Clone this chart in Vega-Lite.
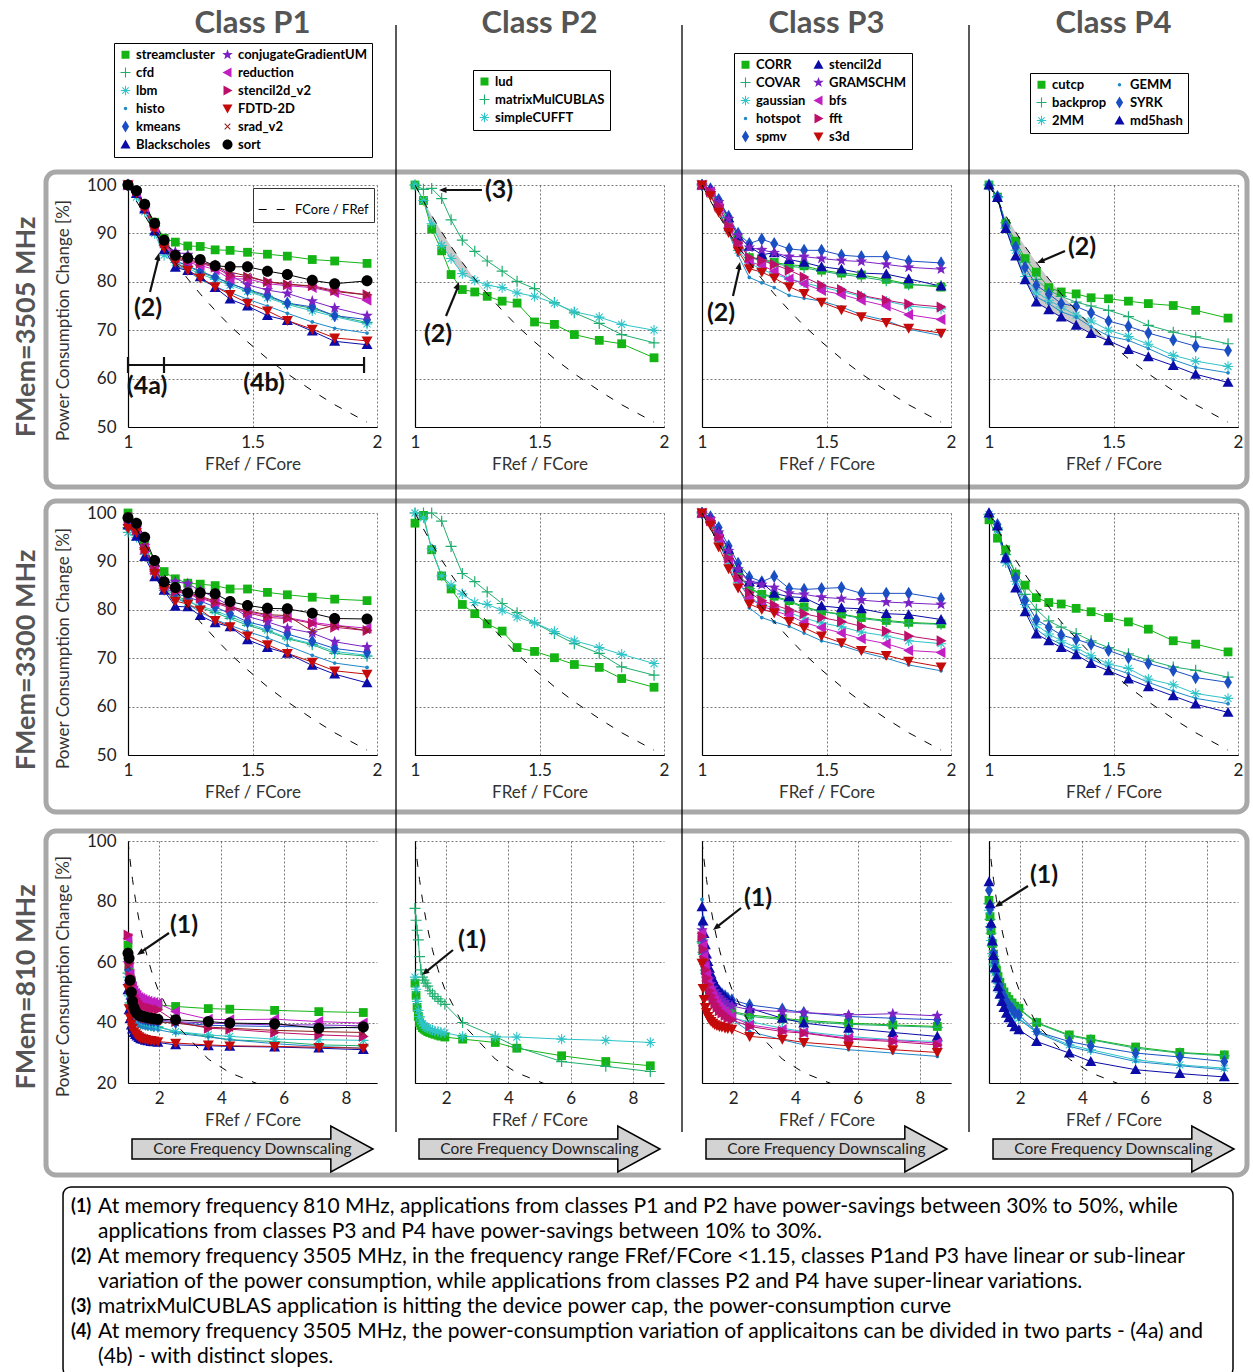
{
"$schema": "https://vega.github.io/schema/vega-lite/v6.json",
"background": "white",
"padding": {"left": 12, "top": 8, "right": 0, "bottom": 0},
"config": {
  "font": "Lato",
  "view": {"stroke": null},
  "axis": {"domainColor": "#000", "domainWidth": 1.2, "grid": true, "gridColor": "#555", "gridDash": [2, 2], "gridWidth": 0.8, "ticks": false, "labelFont": "Lato", "labelFontSize": 17, "labelColor": "#222", "labelFlush": false, "labelOverlap": false, "titleFont": "Lato", "titleFontSize": 17, "titleFontWeight": "normal", "titleColor": "#333"},
  "axisX": {"labelPadding": 7, "titlePadding": 6},
  "axisY": {"labelPadding": 12, "titlePadding": 14},
  "legend": {"labelFont": "Lato", "labelFontSize": 13, "labelFontWeight": "bold", "labelColor": "#000", "strokeColor": "#000", "fillColor": "#fff", "padding": 5, "symbolSize": 100, "symbolOpacity": 1, "symbolFillColor": "#000", "rowPadding": 4, "columnPadding": 6, "labelOffset": 4, "labelLimit": 400, "symbolStrokeWidth": 0},
  "range": {
    "category": ["#2ec4c8","#0b0ba8","#14b414","#1fae6e","#c40a0a","#1e88c8","#7a22c4","#1a4fc4","#1fae6e","#c21fc2","#1fae6e","#7a22c4","#14b414","#bd0f6a","#2ec4c8","#1e88c8","#1e88c8","#1a4fc4","#2ec4c8","#14b414","#1fae6e","#0b0ba8","#c21fc2","#c40a0a","#2ec4c8","#000000","#1a4fc4","#8a1c1c","#0b0ba8","#bd0f6a","#14b414"],
    "symbol": [
      "M-0.95,-0.1H0.95V0.1H-0.95Z M-0.1,-0.95H0.1V0.95H-0.1Z M-0.707,-0.566L-0.566,-0.707L0.707,0.566L0.566,0.707Z M0.566,-0.707L0.707,-0.566L-0.566,0.707L-0.707,0.566Z",
      "M0,-1L1,0.8H-1Z",
      "M-0.8,-0.8H0.8V0.8H-0.8Z",
      "M-1,-0.11H1V0.11H-1Z M-0.11,-1H0.11V1H-0.11Z",
      "M0,1L1,-0.8H-1Z",
      "M-0.34,0A0.34,0.34,0,1,0,0.34,0A0.34,0.34,0,1,0,-0.34,0Z",
      "M0,-1.1L0.27,-0.37L1.05,-0.34L0.44,0.14L0.65,0.89L0,0.46L-0.65,0.89L-0.44,0.14L-1.05,-0.34L-0.27,-0.37Z",
      "M0,-1.2L0.72,0L0,1.2L-0.72,0Z",
      "M-1,-0.11H1V0.11H-1Z M-0.11,-1H0.11V1H-0.11Z",
      "M-1,0L0.8,-1V1Z",
      "M-1,-0.11H1V0.11H-1Z M-0.11,-1H0.11V1H-0.11Z",
      "M0,-1.1L0.27,-0.37L1.05,-0.34L0.44,0.14L0.65,0.89L0,0.46L-0.65,0.89L-0.44,0.14L-1.05,-0.34L-0.27,-0.37Z",
      "M-0.8,-0.8H0.8V0.8H-0.8Z",
      "M1,0L-0.8,-1V1Z",
      "M-0.95,-0.1H0.95V0.1H-0.95Z M-0.1,-0.95H0.1V0.95H-0.1Z M-0.707,-0.566L-0.566,-0.707L0.707,0.566L0.566,0.707Z M0.566,-0.707L0.707,-0.566L-0.566,0.707L-0.707,0.566Z",
      "M-0.34,0A0.34,0.34,0,1,0,0.34,0A0.34,0.34,0,1,0,-0.34,0Z",
      "M-0.34,0A0.34,0.34,0,1,0,0.34,0A0.34,0.34,0,1,0,-0.34,0Z",
      "M0,-1.2L0.72,0L0,1.2L-0.72,0Z",
      "M-0.95,-0.1H0.95V0.1H-0.95Z M-0.1,-0.95H0.1V0.95H-0.1Z M-0.707,-0.566L-0.566,-0.707L0.707,0.566L0.566,0.707Z M0.566,-0.707L0.707,-0.566L-0.566,0.707L-0.707,0.566Z",
      "M-0.8,-0.8H0.8V0.8H-0.8Z",
      "M-1,-0.11H1V0.11H-1Z M-0.11,-1H0.11V1H-0.11Z",
      "M0,-1L1,0.8H-1Z",
      "M-1,0L0.8,-1V1Z",
      "M0,1L1,-0.8H-1Z",
      "M-0.95,-0.1H0.95V0.1H-0.95Z M-0.1,-0.95H0.1V0.95H-0.1Z M-0.707,-0.566L-0.566,-0.707L0.707,0.566L0.566,0.707Z M0.566,-0.707L0.707,-0.566L-0.566,0.707L-0.707,0.566Z",
      "M-1,0A1,1,0,1,0,1,0A1,1,0,1,0,-1,0Z",
      "M0,-1.2L0.72,0L0,1.2L-0.72,0Z",
      "M-0.636,-0.495L-0.495,-0.636L0.636,0.495L0.495,0.636Z M0.495,-0.636L0.636,-0.495L-0.495,0.636L-0.636,0.495Z",
      "M0,-1L1,0.8H-1Z",
      "M1,0L-0.8,-1V1Z",
      "M-0.8,-0.8H0.8V0.8H-0.8Z"
    ]
  }
},
"datasets": {
"ref": [
{"s":"FCore / FRef","x":1,"h":100,"m":100,"l":100},
{"s":"FCore / FRef","x":1.034,"h":96.7,"m":96.7,"l":96.7},
{"s":"FCore / FRef","x":1.067,"h":93.7,"m":93.7,"l":93.7},
{"s":"FCore / FRef","x":1.107,"h":90.3,"m":90.3,"l":90.3},
{"s":"FCore / FRef","x":1.145,"h":87.3,"m":87.3,"l":87.3},
{"s":"FCore / FRef","x":1.19,"h":84,"m":84,"l":84},
{"s":"FCore / FRef","x":1.24,"h":80.6,"m":80.6,"l":80.6},
{"s":"FCore / FRef","x":1.29,"h":77.5,"m":77.5,"l":77.5},
{"s":"FCore / FRef","x":1.35,"h":74.1,"m":74.1,"l":74.1},
{"s":"FCore / FRef","x":1.41,"h":70.9,"m":70.9,"l":70.9},
{"s":"FCore / FRef","x":1.48,"h":67.6,"m":67.6,"l":67.6},
{"s":"FCore / FRef","x":1.56,"h":64.1,"m":64.1,"l":64.1},
{"s":"FCore / FRef","x":1.64,"h":61,"m":61,"l":61},
{"s":"FCore / FRef","x":1.74,"h":57.5,"m":57.5,"l":57.5},
{"s":"FCore / FRef","x":1.83,"h":54.6,"m":54.6,"l":54.6},
{"s":"FCore / FRef","x":1.96,"h":51,"m":51,"l":51},
{"s":"FCore / FRef","x":2.53,"l":39.5},
{"s":"FCore / FRef","x":3.58,"l":27.9},
{"s":"FCore / FRef","x":4.27,"l":23.4},
{"s":"FCore / FRef","x":5.71,"l":17.5}
],
"shade": [
{"c":"P2","x":1.034,"lo":96.8,"hi":96.8},
{"c":"P2","x":1.067,"lo":92,"hi":93.7},
{"c":"P2","x":1.107,"lo":87.5,"hi":90.3},
{"c":"P2","x":1.145,"lo":84.8,"hi":87.3},
{"c":"P2","x":1.19,"lo":81.7,"hi":84},
{"c":"P2","x":1.24,"lo":80.3,"hi":80.6},
{"c":"P2","x":1.29,"lo":77.2,"hi":77.5},
{"c":"P4","x":1.067,"lo":91,"hi":93.7},
{"c":"P4","x":1.107,"lo":85.3,"hi":90.3},
{"c":"P4","x":1.145,"lo":80.4,"hi":87.3},
{"c":"P4","x":1.19,"lo":75.8,"hi":84},
{"c":"P4","x":1.24,"lo":74.2,"hi":80.6},
{"c":"P4","x":1.29,"lo":72.7,"hi":77.5},
{"c":"P4","x":1.35,"lo":71,"hi":74.1},
{"c":"P4","x":1.41,"lo":69.3,"hi":70.9},
{"c":"P4","x":1.48,"lo":67.8,"hi":67.8}
],
"d": [
{"a":"streamcluster","x":1,"h":100,"m":100,"l":65.6},
{"a":"streamcluster","x":1.034,"h":98.8,"m":97,"l":58.1},
{"a":"streamcluster","x":1.067,"h":96,"m":94,"l":54.7},
{"a":"streamcluster","x":1.107,"h":92.3,"m":90,"l":52.3},
{"a":"streamcluster","x":1.145,"h":89,"m":87.9,"l":50.8},
{"a":"streamcluster","x":1.19,"h":88.2,"m":86.4,"l":49.6},
{"a":"streamcluster","x":1.24,"h":87.4,"m":85.5,"l":48.8},
{"a":"streamcluster","x":1.29,"h":87.3,"m":85.3,"l":48.2},
{"a":"streamcluster","x":1.35,"h":86.6,"m":85,"l":47.6},
{"a":"streamcluster","x":1.41,"h":86.5,"m":84.3,"l":47.2},
{"a":"streamcluster","x":1.48,"h":86.1,"m":84.3,"l":46.9},
{"a":"streamcluster","x":1.56,"h":85.7,"m":83.6,"l":46.6},
{"a":"streamcluster","x":1.64,"h":85.3,"m":83.1,"l":46.4},
{"a":"streamcluster","x":1.74,"h":84.6,"m":82.6,"l":46.2},
{"a":"streamcluster","x":1.83,"h":84.3,"m":82.2,"l":46},
{"a":"streamcluster","x":1.96,"h":83.8,"m":81.9,"l":45.8},
{"a":"streamcluster","x":2.53,"l":45.3},
{"a":"streamcluster","x":3.58,"l":44.6},
{"a":"streamcluster","x":4.27,"l":44.4},
{"a":"streamcluster","x":5.71,"l":44},
{"a":"streamcluster","x":7.13,"l":43.6},
{"a":"streamcluster","x":8.56,"l":43.3},
{"a":"cfd","x":1,"h":100,"m":97,"l":56.3},
{"a":"cfd","x":1.034,"h":98.5,"m":95.5,"l":49.5},
{"a":"cfd","x":1.067,"h":95.5,"m":92.5,"l":46.5},
{"a":"cfd","x":1.107,"h":91.5,"m":88,"l":44.4},
{"a":"cfd","x":1.145,"h":87.5,"m":84.5,"l":43},
{"a":"cfd","x":1.19,"h":84.5,"m":82.8,"l":41.9},
{"a":"cfd","x":1.24,"h":83.2,"m":82,"l":41.2},
{"a":"cfd","x":1.29,"h":82,"m":80.5,"l":40.6},
{"a":"cfd","x":1.35,"h":80.8,"m":79.4,"l":40.1},
{"a":"cfd","x":1.41,"h":79.8,"m":78.2,"l":39.7},
{"a":"cfd","x":1.48,"h":78.2,"m":76.8,"l":39.5},
{"a":"cfd","x":1.56,"h":77,"m":75.6,"l":39.2},
{"a":"cfd","x":1.64,"h":75.5,"m":74,"l":39},
{"a":"cfd","x":1.74,"h":74.5,"m":72.8,"l":38.9},
{"a":"cfd","x":1.83,"h":73,"m":71,"l":38.7},
{"a":"cfd","x":1.96,"h":71.6,"m":70.4,"l":38.5},
{"a":"cfd","x":2.53,"l":37},
{"a":"cfd","x":3.58,"l":35.4},
{"a":"cfd","x":4.27,"l":34.3},
{"a":"cfd","x":5.71,"l":33.7},
{"a":"cfd","x":7.13,"l":32.6},
{"a":"cfd","x":8.56,"l":32.3},
{"a":"lbm","x":1,"h":100,"m":96,"l":55},
{"a":"lbm","x":1.034,"h":97.5,"m":95,"l":48.8},
{"a":"lbm","x":1.067,"h":94.5,"m":91.5,"l":46},
{"a":"lbm","x":1.107,"h":90,"m":87.5,"l":44.1},
{"a":"lbm","x":1.145,"h":85.5,"m":84,"l":42.8},
{"a":"lbm","x":1.19,"h":84,"m":82.5,"l":41.8},
{"a":"lbm","x":1.24,"h":82.8,"m":81.6,"l":41.1},
{"a":"lbm","x":1.29,"h":81.6,"m":80.8,"l":40.7},
{"a":"lbm","x":1.35,"h":80.5,"m":79.8,"l":40.2},
{"a":"lbm","x":1.41,"h":79.3,"m":78.6,"l":39.8},
{"a":"lbm","x":1.48,"h":78,"m":77.2,"l":39.6},
{"a":"lbm","x":1.56,"h":76.7,"m":75.8,"l":39.4},
{"a":"lbm","x":1.64,"h":75.3,"m":74.2,"l":39.2},
{"a":"lbm","x":1.74,"h":74,"m":73,"l":39},
{"a":"lbm","x":1.83,"h":72.8,"m":71.4,"l":38.9},
{"a":"lbm","x":1.96,"h":71.3,"m":70.6,"l":38.7},
{"a":"lbm","x":2.53,"l":37},
{"a":"lbm","x":3.58,"l":35.9},
{"a":"lbm","x":4.27,"l":35.4},
{"a":"lbm","x":5.71,"l":34.5},
{"a":"lbm","x":7.13,"l":34.3},
{"a":"lbm","x":8.56,"l":34.1},
{"a":"histo","x":1,"h":100,"m":97,"l":51.9},
{"a":"histo","x":1.034,"h":98.4,"m":95.2,"l":46.5},
{"a":"histo","x":1.067,"h":95.2,"m":92,"l":44},
{"a":"histo","x":1.107,"h":91,"m":87,"l":42.3},
{"a":"histo","x":1.145,"h":87,"m":84,"l":41.2},
{"a":"histo","x":1.19,"h":83.6,"m":82.5,"l":40.3},
{"a":"histo","x":1.24,"h":82.2,"m":81.2,"l":39.7},
{"a":"histo","x":1.29,"h":80.5,"m":79.5,"l":39.3},
{"a":"histo","x":1.35,"h":79,"m":78,"l":38.9},
{"a":"histo","x":1.41,"h":77.8,"m":76.8,"l":38.6},
{"a":"histo","x":1.48,"h":76.4,"m":75.5,"l":38.4},
{"a":"histo","x":1.56,"h":75,"m":74.2,"l":38.2},
{"a":"histo","x":1.64,"h":73.5,"m":72.6,"l":38},
{"a":"histo","x":1.74,"h":71.7,"m":70.6,"l":37.9},
{"a":"histo","x":1.83,"h":70.4,"m":69,"l":37.7},
{"a":"histo","x":1.96,"h":69.4,"m":68.1,"l":37.6},
{"a":"histo","x":2.53,"l":36.5},
{"a":"histo","x":3.58,"l":35.2},
{"a":"histo","x":4.27,"l":34.3},
{"a":"histo","x":5.71,"l":33},
{"a":"histo","x":7.13,"l":32.1},
{"a":"histo","x":8.56,"l":31.5},
{"a":"kmeans","x":1,"h":100,"m":98,"l":57.4},
{"a":"kmeans","x":1.034,"h":98.6,"m":96,"l":50.9},
{"a":"kmeans","x":1.067,"h":95.5,"m":92.5,"l":48},
{"a":"kmeans","x":1.107,"h":91.4,"m":87.8,"l":46},
{"a":"kmeans","x":1.145,"h":87.6,"m":84.6,"l":44.6},
{"a":"kmeans","x":1.19,"h":84.3,"m":83.4,"l":43.5},
{"a":"kmeans","x":1.24,"h":83.3,"m":82.6,"l":42.9},
{"a":"kmeans","x":1.29,"h":82.2,"m":81.8,"l":42.4},
{"a":"kmeans","x":1.35,"h":81,"m":80.6,"l":41.8},
{"a":"kmeans","x":1.41,"h":79.6,"m":79.2,"l":41.5},
{"a":"kmeans","x":1.48,"h":78.4,"m":77.5,"l":41.2},
{"a":"kmeans","x":1.56,"h":77.2,"m":76.5,"l":41},
{"a":"kmeans","x":1.64,"h":75.6,"m":75,"l":40.8},
{"a":"kmeans","x":1.74,"h":74.8,"m":73.5,"l":40.6},
{"a":"kmeans","x":1.83,"h":73,"m":72,"l":40.5},
{"a":"kmeans","x":1.96,"h":72.2,"m":71.2,"l":40.3},
{"a":"kmeans","x":2.53,"l":40},
{"a":"kmeans","x":3.58,"l":39.1},
{"a":"kmeans","x":4.27,"l":38.9},
{"a":"kmeans","x":5.71,"l":38.7},
{"a":"kmeans","x":7.13,"l":38.5},
{"a":"kmeans","x":8.56,"l":38.2},
{"a":"Blackscholes","x":1,"h":100,"m":97.5,"l":50.8},
{"a":"Blackscholes","x":1.034,"h":98.2,"m":95.2,"l":44.2},
{"a":"Blackscholes","x":1.067,"h":95,"m":91,"l":41.2},
{"a":"Blackscholes","x":1.107,"h":90.5,"m":86.8,"l":39.1},
{"a":"Blackscholes","x":1.145,"h":86.6,"m":84,"l":37.8},
{"a":"Blackscholes","x":1.19,"h":83,"m":80.7,"l":36.7},
{"a":"Blackscholes","x":1.24,"h":82.3,"m":80.6,"l":36},
{"a":"Blackscholes","x":1.29,"h":81,"m":78.8,"l":35.5},
{"a":"Blackscholes","x":1.35,"h":78.8,"m":77.3,"l":35},
{"a":"Blackscholes","x":1.41,"h":76.4,"m":76.5,"l":34.6},
{"a":"Blackscholes","x":1.48,"h":75,"m":73.8,"l":34.4},
{"a":"Blackscholes","x":1.56,"h":73,"m":72.2,"l":34.1},
{"a":"Blackscholes","x":1.64,"h":72,"m":71,"l":33.9},
{"a":"Blackscholes","x":1.74,"h":69.8,"m":68.5,"l":33.7},
{"a":"Blackscholes","x":1.83,"h":67.7,"m":66.7,"l":33.6},
{"a":"Blackscholes","x":1.96,"h":67,"m":64.9,"l":33.4},
{"a":"Blackscholes","x":2.53,"l":32.6},
{"a":"Blackscholes","x":3.58,"l":32.3},
{"a":"Blackscholes","x":4.27,"l":32.1},
{"a":"Blackscholes","x":5.71,"l":31.9},
{"a":"Blackscholes","x":7.13,"l":31.5},
{"a":"Blackscholes","x":8.56,"l":31},
{"a":"conjugateGradientUM","x":1,"h":100,"m":98.5,"l":59.6},
{"a":"conjugateGradientUM","x":1.034,"h":98.7,"m":96.8,"l":52.5},
{"a":"conjugateGradientUM","x":1.067,"h":95.8,"m":93.2,"l":49.3},
{"a":"conjugateGradientUM","x":1.107,"h":91.8,"m":88.8,"l":47.1},
{"a":"conjugateGradientUM","x":1.145,"h":88,"m":85.5,"l":45.6},
{"a":"conjugateGradientUM","x":1.19,"h":86.2,"m":85.8,"l":44.5},
{"a":"conjugateGradientUM","x":1.24,"h":85.6,"m":85.4,"l":43.7},
{"a":"conjugateGradientUM","x":1.29,"h":84,"m":84,"l":43.1},
{"a":"conjugateGradientUM","x":1.35,"h":83.4,"m":82.5,"l":42.6},
{"a":"conjugateGradientUM","x":1.41,"h":81.4,"m":80.8,"l":42.2},
{"a":"conjugateGradientUM","x":1.48,"h":79.4,"m":78.6,"l":41.9},
{"a":"conjugateGradientUM","x":1.56,"h":78.3,"m":77.5,"l":41.6},
{"a":"conjugateGradientUM","x":1.64,"h":77.6,"m":76.2,"l":41.5},
{"a":"conjugateGradientUM","x":1.74,"h":76,"m":75.2,"l":41.3},
{"a":"conjugateGradientUM","x":1.83,"h":74.6,"m":73.4,"l":41.1},
{"a":"conjugateGradientUM","x":1.96,"h":73,"m":72.3,"l":40.9},
{"a":"conjugateGradientUM","x":2.53,"l":40.3},
{"a":"conjugateGradientUM","x":3.58,"l":39.8},
{"a":"conjugateGradientUM","x":4.27,"l":39.6},
{"a":"conjugateGradientUM","x":5.71,"l":39.2},
{"a":"conjugateGradientUM","x":7.13,"l":39.2},
{"a":"conjugateGradientUM","x":8.56,"l":38.9},
{"a":"reduction","x":1,"h":100,"m":99,"l":67.8},
{"a":"reduction","x":1.034,"h":98.5,"m":96.5,"l":59.7},
{"a":"reduction","x":1.067,"h":95.4,"m":92.8,"l":56},
{"a":"reduction","x":1.107,"h":91.2,"m":88.5,"l":53.5},
{"a":"reduction","x":1.145,"h":87.6,"m":85,"l":51.8},
{"a":"reduction","x":1.19,"h":84.8,"m":84,"l":50.5},
{"a":"reduction","x":1.24,"h":84,"m":83.4,"l":49.6},
{"a":"reduction","x":1.29,"h":83.4,"m":82.6,"l":49},
{"a":"reduction","x":1.35,"h":82.5,"m":81.6,"l":48.3},
{"a":"reduction","x":1.41,"h":80.6,"m":80.8,"l":47.9},
{"a":"reduction","x":1.48,"h":80.6,"m":79.6,"l":47.6},
{"a":"reduction","x":1.56,"h":79.6,"m":78.8,"l":47.3},
{"a":"reduction","x":1.64,"h":79.2,"m":78.4,"l":47},
{"a":"reduction","x":1.74,"h":78.8,"m":77.4,"l":46.8},
{"a":"reduction","x":1.83,"h":77.8,"m":76.8,"l":46.6},
{"a":"reduction","x":1.96,"h":76.2,"m":76.2,"l":46.4},
{"a":"reduction","x":2.53,"l":43.6},
{"a":"reduction","x":3.58,"l":41.1},
{"a":"reduction","x":4.27,"l":40.9},
{"a":"reduction","x":5.71,"l":41.1},
{"a":"reduction","x":7.13,"l":40.3},
{"a":"reduction","x":8.56,"l":39.8},
{"a":"stencil2d_v2","x":1,"h":100,"m":98.5,"l":68.9},
{"a":"stencil2d_v2","x":1.034,"h":98.8,"m":96.5,"l":59.5},
{"a":"stencil2d_v2","x":1.067,"h":95.8,"m":92.5,"l":55.3},
{"a":"stencil2d_v2","x":1.107,"h":91.6,"m":88.2,"l":52.4},
{"a":"stencil2d_v2","x":1.145,"h":88,"m":85,"l":50.4},
{"a":"stencil2d_v2","x":1.19,"h":85,"m":83.8,"l":48.9},
{"a":"stencil2d_v2","x":1.24,"h":84.3,"m":83.2,"l":47.9},
{"a":"stencil2d_v2","x":1.29,"h":83.8,"m":82.4,"l":47.2},
{"a":"stencil2d_v2","x":1.35,"h":83,"m":81.4,"l":46.4},
{"a":"stencil2d_v2","x":1.41,"h":81.2,"m":80.4,"l":45.9},
{"a":"stencil2d_v2","x":1.48,"h":81,"m":79.4,"l":45.6},
{"a":"stencil2d_v2","x":1.56,"h":80,"m":78.4,"l":45.2},
{"a":"stencil2d_v2","x":1.64,"h":79.4,"m":78.2,"l":44.9},
{"a":"stencil2d_v2","x":1.74,"h":79.2,"m":77.2,"l":44.7},
{"a":"stencil2d_v2","x":1.83,"h":78.2,"m":76.4,"l":44.4},
{"a":"stencil2d_v2","x":1.96,"h":77.3,"m":75.7,"l":44.2},
{"a":"stencil2d_v2","x":2.53,"l":40.3},
{"a":"stencil2d_v2","x":3.58,"l":38.1},
{"a":"stencil2d_v2","x":4.27,"l":37.8},
{"a":"stencil2d_v2","x":5.71,"l":36.7},
{"a":"stencil2d_v2","x":7.13,"l":35.9},
{"a":"stencil2d_v2","x":8.56,"l":35.4},
{"a":"FDTD-2D","x":1,"h":100,"m":96.8,"l":51.3},
{"a":"FDTD-2D","x":1.034,"h":98.4,"m":96,"l":44.6},
{"a":"FDTD-2D","x":1.067,"h":95,"m":92,"l":41.6},
{"a":"FDTD-2D","x":1.107,"h":90.8,"m":87.5,"l":39.5},
{"a":"FDTD-2D","x":1.145,"h":87,"m":84.2,"l":38.1},
{"a":"FDTD-2D","x":1.19,"h":84,"m":81.8,"l":37},
{"a":"FDTD-2D","x":1.24,"h":82.4,"m":81.2,"l":36.3},
{"a":"FDTD-2D","x":1.29,"h":80.8,"m":80,"l":35.8},
{"a":"FDTD-2D","x":1.35,"h":79,"m":77.8,"l":35.3},
{"a":"FDTD-2D","x":1.41,"h":77.4,"m":76.5,"l":34.9},
{"a":"FDTD-2D","x":1.48,"h":75.6,"m":74.6,"l":34.7},
{"a":"FDTD-2D","x":1.56,"h":74,"m":72.8,"l":34.4},
{"a":"FDTD-2D","x":1.64,"h":72,"m":71,"l":34.2},
{"a":"FDTD-2D","x":1.74,"h":70.2,"m":69.2,"l":34.1},
{"a":"FDTD-2D","x":1.83,"h":68.4,"m":67.4,"l":33.9},
{"a":"FDTD-2D","x":1.96,"h":67.8,"m":66.7,"l":33.7},
{"a":"FDTD-2D","x":2.53,"l":33.2},
{"a":"FDTD-2D","x":3.58,"l":32.6},
{"a":"FDTD-2D","x":4.27,"l":32.3},
{"a":"FDTD-2D","x":5.71,"l":32.1},
{"a":"FDTD-2D","x":7.13,"l":31.8},
{"a":"FDTD-2D","x":8.56,"l":31.5},
{"a":"srad_v2","x":1,"h":100,"m":99.5,"l":58.5},
{"a":"srad_v2","x":1.034,"h":98.8,"m":96.5,"l":51.5},
{"a":"srad_v2","x":1.067,"h":96,"m":93.2,"l":48.4},
{"a":"srad_v2","x":1.107,"h":91.8,"m":88.6,"l":46.2},
{"a":"srad_v2","x":1.145,"h":88.3,"m":85.2,"l":44.7},
{"a":"srad_v2","x":1.19,"h":85.2,"m":84.2,"l":43.6},
{"a":"srad_v2","x":1.24,"h":84.6,"m":83.6,"l":42.9},
{"a":"srad_v2","x":1.29,"h":84,"m":82.8,"l":42.3},
{"a":"srad_v2","x":1.35,"h":83.3,"m":81.8,"l":41.8},
{"a":"srad_v2","x":1.41,"h":82,"m":80.6,"l":41.4},
{"a":"srad_v2","x":1.48,"h":81.2,"m":79.8,"l":41.1},
{"a":"srad_v2","x":1.56,"h":80,"m":79,"l":40.9},
{"a":"srad_v2","x":1.64,"h":79.6,"m":78.8,"l":40.7},
{"a":"srad_v2","x":1.74,"h":79,"m":75.6,"l":40.5},
{"a":"srad_v2","x":1.83,"h":78,"m":76.8,"l":40.3},
{"a":"srad_v2","x":1.96,"h":77.3,"m":75.7,"l":40.2},
{"a":"srad_v2","x":2.53,"l":39.8},
{"a":"srad_v2","x":3.58,"l":38.5},
{"a":"srad_v2","x":4.27,"l":38.1},
{"a":"srad_v2","x":5.71,"l":37.4},
{"a":"srad_v2","x":7.13,"l":37},
{"a":"srad_v2","x":8.56,"l":36.7},
{"a":"sort","x":1,"h":100,"m":99,"l":62.9},
{"a":"sort","x":1.034,"h":98.8,"m":97.9,"l":61.2},
{"a":"sort","x":1.067,"h":96,"m":95,"l":54},
{"a":"sort","x":1.107,"h":92.1,"m":90.2,"l":50},
{"a":"sort","x":1.145,"h":88.6,"m":85.8,"l":47},
{"a":"sort","x":1.19,"h":85.5,"m":84.6,"l":45},
{"a":"sort","x":1.24,"h":84.9,"m":83.5,"l":43.8},
{"a":"sort","x":1.29,"h":84.6,"m":83.5,"l":43},
{"a":"sort","x":1.35,"h":83.3,"m":83.3,"l":42.5},
{"a":"sort","x":1.41,"h":83.1,"m":81.7,"l":42.2},
{"a":"sort","x":1.48,"h":83.1,"m":80.9,"l":42},
{"a":"sort","x":1.56,"h":82.2,"m":80.3,"l":41.8},
{"a":"sort","x":1.64,"h":81.5,"m":80.2,"l":41.6},
{"a":"sort","x":1.74,"h":80.3,"m":79.3,"l":41.4},
{"a":"sort","x":1.83,"h":79.6,"m":78.2,"l":41.2},
{"a":"sort","x":1.96,"h":80.2,"m":78.1,"l":41.1},
{"a":"sort","x":2.53,"l":40.9},
{"a":"sort","x":3.58,"l":40.3},
{"a":"sort","x":4.27,"l":39.8},
{"a":"sort","x":5.71,"l":39.6},
{"a":"sort","x":7.13,"l":38.1},
{"a":"sort","x":8.56,"l":38.5},
{"a":"lud","x":1,"h":100,"m":97.9,"l":53},
{"a":"lud","x":1.034,"h":96.8,"m":99.5,"l":49},
{"a":"lud","x":1.067,"h":90.9,"m":92.4,"l":45},
{"a":"lud","x":1.107,"h":86.4,"m":87,"l":42},
{"a":"lud","x":1.145,"h":81.5,"m":84.3,"l":40},
{"a":"lud","x":1.19,"h":78.4,"m":81.1,"l":39},
{"a":"lud","x":1.24,"h":77.9,"m":79.2,"l":38.3},
{"a":"lud","x":1.29,"h":77,"m":77.1,"l":37.8},
{"a":"lud","x":1.35,"h":76,"m":75.6,"l":37.4},
{"a":"lud","x":1.41,"h":75.6,"m":72.2,"l":37},
{"a":"lud","x":1.48,"h":71.7,"m":71.4,"l":36.7},
{"a":"lud","x":1.56,"h":71.2,"m":70.1,"l":36.4},
{"a":"lud","x":1.64,"h":69.1,"m":68.7,"l":36.1},
{"a":"lud","x":1.74,"h":67.9,"m":68.1,"l":35.8},
{"a":"lud","x":1.83,"h":67.2,"m":65.8,"l":35.5},
{"a":"lud","x":1.96,"h":64.3,"m":64,"l":35.2},
{"a":"lud","x":2.53,"l":34.5},
{"a":"lud","x":3.58,"l":33.4},
{"a":"lud","x":4.27,"l":31.5},
{"a":"lud","x":5.71,"l":29},
{"a":"lud","x":7.13,"l":27.1},
{"a":"lud","x":8.56,"l":25.7},
{"a":"matrixMulCUBLAS","x":1,"h":100,"m":100,"l":77.7},
{"a":"matrixMulCUBLAS","x":1.034,"h":99.1,"m":100,"l":73.8},
{"a":"matrixMulCUBLAS","x":1.067,"h":99.3,"m":100,"l":70.5},
{"a":"matrixMulCUBLAS","x":1.107,"h":97.2,"m":98.3,"l":67.3},
{"a":"matrixMulCUBLAS","x":1.145,"h":92.8,"m":93.1,"l":61.8},
{"a":"matrixMulCUBLAS","x":1.19,"h":88.6,"m":87.5,"l":57.4},
{"a":"matrixMulCUBLAS","x":1.24,"h":86.3,"m":85.8,"l":55},
{"a":"matrixMulCUBLAS","x":1.29,"h":84.3,"m":83.7,"l":54},
{"a":"matrixMulCUBLAS","x":1.35,"h":82.2,"m":81.3,"l":53},
{"a":"matrixMulCUBLAS","x":1.41,"h":80.1,"m":79.4,"l":52},
{"a":"matrixMulCUBLAS","x":1.48,"h":78.6,"m":77.3,"l":50.5},
{"a":"matrixMulCUBLAS","x":1.56,"h":75.7,"m":75.1,"l":49.5},
{"a":"matrixMulCUBLAS","x":1.64,"h":73.6,"m":73,"l":48.6},
{"a":"matrixMulCUBLAS","x":1.74,"h":71.4,"m":71,"l":47.8},
{"a":"matrixMulCUBLAS","x":1.83,"h":69.1,"m":68.2,"l":47},
{"a":"matrixMulCUBLAS","x":1.96,"h":67.4,"m":66.5,"l":46},
{"a":"matrixMulCUBLAS","x":2.53,"l":40},
{"a":"matrixMulCUBLAS","x":3.58,"l":35.4},
{"a":"matrixMulCUBLAS","x":4.27,"l":31.9},
{"a":"matrixMulCUBLAS","x":5.71,"l":27.1},
{"a":"matrixMulCUBLAS","x":7.13,"l":25.5},
{"a":"matrixMulCUBLAS","x":8.56,"l":23.8},
{"a":"simpleCUFFT","x":1,"h":100,"m":100,"l":55},
{"a":"simpleCUFFT","x":1.034,"h":96.8,"m":99,"l":51},
{"a":"simpleCUFFT","x":1.067,"h":92,"m":92.6,"l":47},
{"a":"simpleCUFFT","x":1.107,"h":87.5,"m":87,"l":44},
{"a":"simpleCUFFT","x":1.145,"h":84.8,"m":85.1,"l":42},
{"a":"simpleCUFFT","x":1.19,"h":81.7,"m":83.3,"l":40.5},
{"a":"simpleCUFFT","x":1.24,"h":80.3,"m":81.5,"l":39.6},
{"a":"simpleCUFFT","x":1.29,"h":79.3,"m":81.1,"l":39},
{"a":"simpleCUFFT","x":1.35,"h":78.8,"m":79.9,"l":38.5},
{"a":"simpleCUFFT","x":1.41,"h":77.7,"m":78.5,"l":38.1},
{"a":"simpleCUFFT","x":1.48,"h":77,"m":77.3,"l":37.8},
{"a":"simpleCUFFT","x":1.56,"h":75.6,"m":75.5,"l":37.5},
{"a":"simpleCUFFT","x":1.64,"h":73.8,"m":73.6,"l":37.2},
{"a":"simpleCUFFT","x":1.74,"h":72.7,"m":72.2,"l":37},
{"a":"simpleCUFFT","x":1.83,"h":71.2,"m":70.8,"l":36.8},
{"a":"simpleCUFFT","x":1.96,"h":70,"m":68.9,"l":36.6},
{"a":"simpleCUFFT","x":2.53,"l":35.4},
{"a":"simpleCUFFT","x":3.58,"l":35.2},
{"a":"simpleCUFFT","x":4.27,"l":35.2},
{"a":"simpleCUFFT","x":5.71,"l":34.5},
{"a":"simpleCUFFT","x":7.13,"l":34.1},
{"a":"simpleCUFFT","x":8.56,"l":33.4},
{"a":"CORR","x":1,"h":100,"m":100,"l":67.3},
{"a":"CORR","x":1.034,"h":98.6,"m":98.4,"l":63.7},
{"a":"CORR","x":1.067,"h":96,"m":95.4,"l":60.7},
{"a":"CORR","x":1.107,"h":92.4,"m":91.2,"l":57.8},
{"a":"CORR","x":1.145,"h":88.8,"m":87.6,"l":55.5},
{"a":"CORR","x":1.19,"h":85,"m":84.6,"l":53.6},
{"a":"CORR","x":1.24,"h":84.8,"m":83.2,"l":51.9},
{"a":"CORR","x":1.29,"h":84,"m":82.8,"l":50.5},
{"a":"CORR","x":1.35,"h":83.5,"m":81.9,"l":49.3},
{"a":"CORR","x":1.41,"h":83.3,"m":80.6,"l":48.1},
{"a":"CORR","x":1.48,"h":82.4,"m":79.7,"l":47.2},
{"a":"CORR","x":1.56,"h":81.8,"m":79.1,"l":46.2},
{"a":"CORR","x":1.64,"h":81.4,"m":78.4,"l":45.5},
{"a":"CORR","x":1.74,"h":80.5,"m":77.8,"l":44.8},
{"a":"CORR","x":1.83,"h":79.5,"m":77.4,"l":44.1},
{"a":"CORR","x":1.96,"h":78.9,"m":77.1,"l":43.6},
{"a":"CORR","x":2.53,"l":42.5},
{"a":"CORR","x":3.58,"l":41.4},
{"a":"CORR","x":4.27,"l":40.7},
{"a":"CORR","x":5.71,"l":39.8},
{"a":"CORR","x":7.13,"l":39.2},
{"a":"CORR","x":8.56,"l":38.7},
{"a":"COVAR","x":1,"h":100,"m":100,"l":66.7},
{"a":"COVAR","x":1.034,"h":98.6,"m":98.4,"l":63.2},
{"a":"COVAR","x":1.067,"h":96,"m":95.4,"l":60.1},
{"a":"COVAR","x":1.107,"h":92.4,"m":91.2,"l":57.3},
{"a":"COVAR","x":1.145,"h":88.6,"m":87.4,"l":55},
{"a":"COVAR","x":1.19,"h":85,"m":84.4,"l":53.1},
{"a":"COVAR","x":1.24,"h":84.6,"m":83,"l":51.5},
{"a":"COVAR","x":1.29,"h":83.8,"m":82.6,"l":50.1},
{"a":"COVAR","x":1.35,"h":83.2,"m":81.7,"l":48.9},
{"a":"COVAR","x":1.41,"h":82.9,"m":80.4,"l":47.7},
{"a":"COVAR","x":1.48,"h":82.2,"m":79.6,"l":46.8},
{"a":"COVAR","x":1.56,"h":81.5,"m":79,"l":45.9},
{"a":"COVAR","x":1.64,"h":81,"m":78.2,"l":45.2},
{"a":"COVAR","x":1.74,"h":80.2,"m":77.6,"l":44.5},
{"a":"COVAR","x":1.83,"h":79.4,"m":77.2,"l":43.8},
{"a":"COVAR","x":1.96,"h":79.2,"m":77,"l":43.3},
{"a":"COVAR","x":2.53,"l":42},
{"a":"COVAR","x":3.58,"l":41},
{"a":"COVAR","x":4.27,"l":40.3},
{"a":"COVAR","x":5.71,"l":39.4},
{"a":"COVAR","x":7.13,"l":38.9},
{"a":"COVAR","x":8.56,"l":38.4},
{"a":"gaussian","x":1,"h":100,"m":100,"l":66.2},
{"a":"gaussian","x":1.034,"h":98,"m":98,"l":62.5},
{"a":"gaussian","x":1.067,"h":95,"m":94.5,"l":59.3},
{"a":"gaussian","x":1.107,"h":90.5,"m":90,"l":56.3},
{"a":"gaussian","x":1.145,"h":86.5,"m":85.6,"l":53.8},
{"a":"gaussian","x":1.19,"h":83.9,"m":82.6,"l":51.8},
{"a":"gaussian","x":1.24,"h":82.5,"m":81.1,"l":50.1},
{"a":"gaussian","x":1.29,"h":81.6,"m":80.4,"l":48.6},
{"a":"gaussian","x":1.35,"h":80.6,"m":79.4,"l":47.4},
{"a":"gaussian","x":1.41,"h":79.8,"m":78.3,"l":46.1},
{"a":"gaussian","x":1.48,"h":78.9,"m":77.3,"l":45.1},
{"a":"gaussian","x":1.56,"h":78,"m":76.5,"l":44.1},
{"a":"gaussian","x":1.64,"h":77,"m":75.4,"l":43.4},
{"a":"gaussian","x":1.74,"h":76,"m":74.6,"l":42.6},
{"a":"gaussian","x":1.83,"h":75,"m":73.6,"l":41.9},
{"a":"gaussian","x":1.96,"h":74.4,"m":73,"l":41.4},
{"a":"gaussian","x":2.53,"l":40.3},
{"a":"gaussian","x":3.58,"l":38.1},
{"a":"gaussian","x":4.27,"l":37},
{"a":"gaussian","x":5.71,"l":35.4},
{"a":"gaussian","x":7.13,"l":34.3},
{"a":"gaussian","x":8.56,"l":33.7},
{"a":"hotspot","x":1,"h":100,"m":100,"l":80.7},
{"a":"hotspot","x":1.034,"h":98,"m":97.8,"l":74.7},
{"a":"hotspot","x":1.067,"h":94.8,"m":94,"l":69.6},
{"a":"hotspot","x":1.107,"h":90,"m":89.2,"l":64.8},
{"a":"hotspot","x":1.145,"h":85.5,"m":84.6,"l":60.9},
{"a":"hotspot","x":1.19,"h":80.9,"m":80.4,"l":57.7},
{"a":"hotspot","x":1.24,"h":79.8,"m":78.4,"l":54.9},
{"a":"hotspot","x":1.29,"h":78.8,"m":77.5,"l":52.5},
{"a":"hotspot","x":1.35,"h":77.2,"m":76.6,"l":50.5},
{"a":"hotspot","x":1.41,"h":76.6,"m":75.2,"l":48.5},
{"a":"hotspot","x":1.48,"h":76,"m":73.6,"l":47},
{"a":"hotspot","x":1.56,"h":74.8,"m":72.6,"l":45.4},
{"a":"hotspot","x":1.64,"h":73.2,"m":71.3,"l":44.2},
{"a":"hotspot","x":1.74,"h":72,"m":70,"l":43},
{"a":"hotspot","x":1.83,"h":70.2,"m":68.6,"l":41.8},
{"a":"hotspot","x":1.96,"h":68.9,"m":67.4,"l":41},
{"a":"hotspot","x":2.53,"l":37},
{"a":"hotspot","x":3.58,"l":34.3},
{"a":"hotspot","x":4.27,"l":32.6},
{"a":"hotspot","x":5.71,"l":31},
{"a":"hotspot","x":7.13,"l":29.9},
{"a":"hotspot","x":8.56,"l":28.8},
{"a":"spmv","x":1,"h":100,"m":100,"l":72.7},
{"a":"spmv","x":1.034,"h":99.2,"m":99.2,"l":68.9},
{"a":"spmv","x":1.067,"h":97,"m":97,"l":65.6},
{"a":"spmv","x":1.107,"h":93.5,"m":93.2,"l":62.6},
{"a":"spmv","x":1.145,"h":90,"m":89.6,"l":60.1},
{"a":"spmv","x":1.19,"h":87.9,"m":86.8,"l":58.1},
{"a":"spmv","x":1.24,"h":88.8,"m":85.8,"l":56.3},
{"a":"spmv","x":1.29,"h":87.9,"m":86.9,"l":54.8},
{"a":"spmv","x":1.35,"h":86.8,"m":84.4,"l":53.5},
{"a":"spmv","x":1.41,"h":86.5,"m":84.2,"l":52.3},
{"a":"spmv","x":1.48,"h":86.5,"m":84.4,"l":51.3},
{"a":"spmv","x":1.56,"h":85.5,"m":84.6,"l":50.3},
{"a":"spmv","x":1.64,"h":85.2,"m":83.4,"l":49.5},
{"a":"spmv","x":1.74,"h":85.2,"m":83.4,"l":48.8},
{"a":"spmv","x":1.83,"h":84.3,"m":83.4,"l":48},
{"a":"spmv","x":1.96,"h":83.9,"m":82.3,"l":47.5},
{"a":"spmv","x":2.53,"l":45.8},
{"a":"spmv","x":3.58,"l":44.4},
{"a":"spmv","x":4.27,"l":43.3},
{"a":"spmv","x":5.71,"l":42},
{"a":"spmv","x":7.13,"l":41.4},
{"a":"spmv","x":8.56,"l":40.9},
{"a":"stencil2d","x":1,"h":100,"m":100,"l":78.2},
{"a":"stencil2d","x":1.034,"h":99,"m":98.8,"l":73.5},
{"a":"stencil2d","x":1.067,"h":96.6,"m":96.2,"l":69.4},
{"a":"stencil2d","x":1.107,"h":93.2,"m":92.5,"l":65.7},
{"a":"stencil2d","x":1.145,"h":89.4,"m":88.6,"l":62.6},
{"a":"stencil2d","x":1.19,"h":87.3,"m":85.8,"l":60.1},
{"a":"stencil2d","x":1.24,"h":85.6,"m":85.6,"l":57.9},
{"a":"stencil2d","x":1.29,"h":86,"m":83.4,"l":56},
{"a":"stencil2d","x":1.35,"h":84.6,"m":82.7,"l":54.4},
{"a":"stencil2d","x":1.41,"h":84,"m":82.5,"l":52.8},
{"a":"stencil2d","x":1.48,"h":83.1,"m":80.8,"l":51.6},
{"a":"stencil2d","x":1.56,"h":82.6,"m":80.4,"l":50.3},
{"a":"stencil2d","x":1.64,"h":81.8,"m":80.2,"l":49.4},
{"a":"stencil2d","x":1.74,"h":81.6,"m":79.2,"l":48.5},
{"a":"stencil2d","x":1.83,"h":80.6,"m":79,"l":47.5},
{"a":"stencil2d","x":1.96,"h":79.1,"m":78,"l":46.9},
{"a":"stencil2d","x":2.53,"l":44.7},
{"a":"stencil2d","x":3.58,"l":41.4},
{"a":"stencil2d","x":4.27,"l":39.8},
{"a":"stencil2d","x":5.71,"l":38.1},
{"a":"stencil2d","x":7.13,"l":36.7},
{"a":"stencil2d","x":8.56,"l":35.4},
{"a":"GRAMSCHM","x":1,"h":100,"m":100,"l":70.5},
{"a":"GRAMSCHM","x":1.034,"h":98.8,"m":98.8,"l":66.8},
{"a":"GRAMSCHM","x":1.067,"h":96.5,"m":96,"l":63.5},
{"a":"GRAMSCHM","x":1.107,"h":93,"m":92.2,"l":60.5},
{"a":"GRAMSCHM","x":1.145,"h":89.6,"m":88.4,"l":58},
{"a":"GRAMSCHM","x":1.19,"h":87.1,"m":85.6,"l":56},
{"a":"GRAMSCHM","x":1.24,"h":86.6,"m":85.2,"l":54.3},
{"a":"GRAMSCHM","x":1.29,"h":86,"m":84.6,"l":52.8},
{"a":"GRAMSCHM","x":1.35,"h":85.2,"m":83.4,"l":51.5},
{"a":"GRAMSCHM","x":1.41,"h":85.2,"m":83.2,"l":50.3},
{"a":"GRAMSCHM","x":1.48,"h":84.8,"m":82.6,"l":49.3},
{"a":"GRAMSCHM","x":1.56,"h":84.4,"m":82.3,"l":48.3},
{"a":"GRAMSCHM","x":1.64,"h":84.2,"m":82,"l":47.5},
{"a":"GRAMSCHM","x":1.74,"h":83.6,"m":81.6,"l":46.8},
{"a":"GRAMSCHM","x":1.83,"h":83,"m":81.4,"l":46},
{"a":"GRAMSCHM","x":1.96,"h":82.6,"m":81.1,"l":45.5},
{"a":"GRAMSCHM","x":2.53,"l":44.2},
{"a":"GRAMSCHM","x":3.58,"l":43.6},
{"a":"GRAMSCHM","x":4.27,"l":43.3},
{"a":"GRAMSCHM","x":5.71,"l":42.5},
{"a":"GRAMSCHM","x":7.13,"l":42.9},
{"a":"GRAMSCHM","x":8.56,"l":42.2},
{"a":"bfs","x":1,"h":100,"m":100,"l":69.5},
{"a":"bfs","x":1.034,"h":98.6,"m":98.2,"l":65.4},
{"a":"bfs","x":1.067,"h":95.4,"m":94.8,"l":61.8},
{"a":"bfs","x":1.107,"h":91.2,"m":90.4,"l":58.5},
{"a":"bfs","x":1.145,"h":87.5,"m":86.2,"l":55.8},
{"a":"bfs","x":1.19,"h":84.1,"m":82.4,"l":53.6},
{"a":"bfs","x":1.24,"h":83.4,"m":80.8,"l":51.6},
{"a":"bfs","x":1.29,"h":82.2,"m":79.8,"l":50},
{"a":"bfs","x":1.35,"h":80.6,"m":78.8,"l":48.6},
{"a":"bfs","x":1.41,"h":79.6,"m":77.4,"l":47.2},
{"a":"bfs","x":1.48,"h":78.2,"m":76.3,"l":46.1},
{"a":"bfs","x":1.56,"h":77.4,"m":75.2,"l":45},
{"a":"bfs","x":1.64,"h":76.2,"m":74,"l":44.2},
{"a":"bfs","x":1.74,"h":75,"m":73,"l":43.4},
{"a":"bfs","x":1.83,"h":73.2,"m":71.6,"l":42.6},
{"a":"bfs","x":1.96,"h":72.2,"m":71.2,"l":42},
{"a":"bfs","x":2.53,"l":39.2},
{"a":"bfs","x":3.58,"l":37.6},
{"a":"bfs","x":4.27,"l":36.7},
{"a":"bfs","x":5.71,"l":34.8},
{"a":"bfs","x":7.13,"l":34.1},
{"a":"bfs","x":8.56,"l":33.2},
{"a":"fft","x":1,"h":100,"m":100,"l":68.4},
{"a":"fft","x":1.034,"h":98.6,"m":98.4,"l":64.3},
{"a":"fft","x":1.067,"h":95.6,"m":95,"l":60.7},
{"a":"fft","x":1.107,"h":91.6,"m":90.6,"l":57.4},
{"a":"fft","x":1.145,"h":88,"m":86.8,"l":54.7},
{"a":"fft","x":1.19,"h":85,"m":83.6,"l":52.5},
{"a":"fft","x":1.24,"h":84.4,"m":81.9,"l":50.5},
{"a":"fft","x":1.29,"h":83.6,"m":81,"l":48.9},
{"a":"fft","x":1.35,"h":82.4,"m":80,"l":47.5},
{"a":"fft","x":1.41,"h":81,"m":79.2,"l":46.1},
{"a":"fft","x":1.48,"h":79.3,"m":78.4,"l":45},
{"a":"fft","x":1.56,"h":78.4,"m":77.6,"l":43.9},
{"a":"fft","x":1.64,"h":77.2,"m":76.6,"l":43.1},
{"a":"fft","x":1.74,"h":76.2,"m":75.6,"l":42.3},
{"a":"fft","x":1.83,"h":75.4,"m":74.6,"l":41.5},
{"a":"fft","x":1.96,"h":74.8,"m":73.6,"l":40.9},
{"a":"fft","x":2.53,"l":38.7},
{"a":"fft","x":3.58,"l":37},
{"a":"fft","x":4.27,"l":36.5},
{"a":"fft","x":5.71,"l":34.5},
{"a":"fft","x":7.13,"l":33.7},
{"a":"fft","x":8.56,"l":32.6},
{"a":"s3d","x":1,"h":100,"m":100,"l":59.6},
{"a":"s3d","x":1.034,"h":97.8,"m":97.5,"l":51.3},
{"a":"s3d","x":1.067,"h":94.4,"m":93,"l":47.6},
{"a":"s3d","x":1.107,"h":90.2,"m":88.5,"l":45},
{"a":"s3d","x":1.145,"h":86.4,"m":84.5,"l":43.3},
{"a":"s3d","x":1.19,"h":82.7,"m":81.2,"l":42},
{"a":"s3d","x":1.24,"h":82,"m":80.1,"l":41.1},
{"a":"s3d","x":1.29,"h":80.8,"m":79.4,"l":40.4},
{"a":"s3d","x":1.35,"h":79,"m":77.6,"l":39.8},
{"a":"s3d","x":1.41,"h":77.6,"m":76.3,"l":39.3},
{"a":"s3d","x":1.48,"h":75.8,"m":74.6,"l":39},
{"a":"s3d","x":1.56,"h":74.2,"m":73.2,"l":38.7},
{"a":"s3d","x":1.64,"h":72.8,"m":71.6,"l":38.5},
{"a":"s3d","x":1.74,"h":71.6,"m":70.6,"l":38.2},
{"a":"s3d","x":1.83,"h":70.4,"m":69.4,"l":38},
{"a":"s3d","x":1.96,"h":69.4,"m":68.2,"l":37.8},
{"a":"s3d","x":2.53,"l":35.4},
{"a":"s3d","x":3.58,"l":34.5},
{"a":"s3d","x":4.27,"l":33.4},
{"a":"s3d","x":5.71,"l":32.3},
{"a":"s3d","x":7.13,"l":31},
{"a":"s3d","x":8.56,"l":30.1},
{"a":"cutcp","x":1,"h":100,"m":98.6,"l":80.4},
{"a":"cutcp","x":1.034,"h":97.5,"m":94.8,"l":75},
{"a":"cutcp","x":1.067,"h":92,"m":92.4,"l":70.4},
{"a":"cutcp","x":1.107,"h":88.4,"m":87.4,"l":66.1},
{"a":"cutcp","x":1.145,"h":84.8,"m":85.1,"l":62.6},
{"a":"cutcp","x":1.19,"h":82,"m":82.5,"l":59.7},
{"a":"cutcp","x":1.24,"h":78.8,"m":81.5,"l":57.2},
{"a":"cutcp","x":1.29,"h":77.9,"m":81.2,"l":55.1},
{"a":"cutcp","x":1.35,"h":77.5,"m":80.3,"l":53.3},
{"a":"cutcp","x":1.41,"h":76.7,"m":79.6,"l":51.5},
{"a":"cutcp","x":1.48,"h":76.5,"m":78.4,"l":50.1},
{"a":"cutcp","x":1.56,"h":76,"m":77.5,"l":48.6},
{"a":"cutcp","x":1.64,"h":75.5,"m":76,"l":47.6},
{"a":"cutcp","x":1.74,"h":75.1,"m":73.6,"l":46.5},
{"a":"cutcp","x":1.83,"h":74.1,"m":72.9,"l":45.4},
{"a":"cutcp","x":1.96,"h":72.5,"m":71.3,"l":44.7},
{"a":"cutcp","x":2.53,"l":40},
{"a":"cutcp","x":3.58,"l":35.9},
{"a":"cutcp","x":4.27,"l":34.5},
{"a":"cutcp","x":5.71,"l":31.9},
{"a":"cutcp","x":7.13,"l":30.1},
{"a":"cutcp","x":8.56,"l":29.3},
{"a":"backprop","x":1,"h":100,"m":99.7,"l":79.3},
{"a":"backprop","x":1.034,"h":97.6,"m":96.9,"l":74.1},
{"a":"backprop","x":1.067,"h":92.2,"m":91.4,"l":69.5},
{"a":"backprop","x":1.107,"h":87.8,"m":87.6,"l":65.3},
{"a":"backprop","x":1.145,"h":84,"m":83.2,"l":61.9},
{"a":"backprop","x":1.19,"h":80.5,"m":80.1,"l":59},
{"a":"backprop","x":1.24,"h":78.2,"m":77.7,"l":56.6},
{"a":"backprop","x":1.29,"h":77,"m":76.4,"l":54.5},
{"a":"backprop","x":1.35,"h":75.8,"m":75.1,"l":52.8},
{"a":"backprop","x":1.41,"h":75,"m":73.6,"l":51},
{"a":"backprop","x":1.48,"h":74.1,"m":72.2,"l":49.6},
{"a":"backprop","x":1.56,"h":72.8,"m":70.9,"l":48.2},
{"a":"backprop","x":1.64,"h":71,"m":69.6,"l":47.2},
{"a":"backprop","x":1.74,"h":69.6,"m":68.2,"l":46.1},
{"a":"backprop","x":1.83,"h":68.6,"m":67.5,"l":45.1},
{"a":"backprop","x":1.96,"h":67.2,"m":66.1,"l":44.4},
{"a":"backprop","x":2.53,"l":39.8},
{"a":"backprop","x":3.58,"l":35.6},
{"a":"backprop","x":4.27,"l":34.3},
{"a":"backprop","x":5.71,"l":31.5},
{"a":"backprop","x":7.13,"l":29.9},
{"a":"backprop","x":8.56,"l":29},
{"a":"2MM","x":1,"h":100,"m":99.7,"l":77.1},
{"a":"2MM","x":1.034,"h":97.4,"m":96.6,"l":71.7},
{"a":"2MM","x":1.067,"h":91,"m":89.7,"l":67.1},
{"a":"2MM","x":1.107,"h":86.5,"m":85.9,"l":62.8},
{"a":"2MM","x":1.145,"h":81.1,"m":81.1,"l":59.3},
{"a":"2MM","x":1.19,"h":77.9,"m":76.9,"l":56.4},
{"a":"2MM","x":1.24,"h":76.2,"m":75,"l":53.9},
{"a":"2MM","x":1.29,"h":74.8,"m":73.6,"l":51.8},
{"a":"2MM","x":1.35,"h":73.1,"m":72.2,"l":50},
{"a":"2MM","x":1.41,"h":71.9,"m":70.5,"l":48.2},
{"a":"2MM","x":1.48,"h":70,"m":68.8,"l":46.8},
{"a":"2MM","x":1.56,"h":68.7,"m":67.9,"l":45.3},
{"a":"2MM","x":1.64,"h":67.1,"m":65.7,"l":44.3},
{"a":"2MM","x":1.74,"h":64.8,"m":64.5,"l":43.2},
{"a":"2MM","x":1.83,"h":63.6,"m":62.7,"l":42.1},
{"a":"2MM","x":1.96,"h":62.5,"m":61.7,"l":41.4},
{"a":"2MM","x":2.53,"l":37},
{"a":"2MM","x":3.58,"l":32.6},
{"a":"2MM","x":4.27,"l":31},
{"a":"2MM","x":5.71,"l":27.7},
{"a":"2MM","x":7.13,"l":26},
{"a":"2MM","x":8.56,"l":24.9},
{"a":"GEMM","x":1,"h":100,"m":99.3,"l":76},
{"a":"GEMM","x":1.034,"h":97.4,"m":96.2,"l":70.8},
{"a":"GEMM","x":1.067,"h":91,"m":90,"l":66.2},
{"a":"GEMM","x":1.107,"h":86,"m":85.2,"l":62},
{"a":"GEMM","x":1.145,"h":80.3,"m":80.1,"l":58.6},
{"a":"GEMM","x":1.19,"h":76.9,"m":76,"l":55.8},
{"a":"GEMM","x":1.24,"h":75.5,"m":74.1,"l":53.3},
{"a":"GEMM","x":1.29,"h":73.8,"m":72.9,"l":51.2},
{"a":"GEMM","x":1.35,"h":72.7,"m":71.5,"l":49.5},
{"a":"GEMM","x":1.41,"h":70.7,"m":69.8,"l":47.7},
{"a":"GEMM","x":1.48,"h":68.8,"m":68.2,"l":46.3},
{"a":"GEMM","x":1.56,"h":67.9,"m":66.8,"l":44.9},
{"a":"GEMM","x":1.64,"h":66.2,"m":65,"l":43.9},
{"a":"GEMM","x":1.74,"h":63.9,"m":63.2,"l":42.8},
{"a":"GEMM","x":1.83,"h":62.3,"m":61.7,"l":41.8},
{"a":"GEMM","x":1.96,"h":61.2,"m":60.6,"l":41.1},
{"a":"GEMM","x":2.53,"l":36.7},
{"a":"GEMM","x":3.58,"l":32.1},
{"a":"GEMM","x":4.27,"l":30.4},
{"a":"GEMM","x":5.71,"l":27.1},
{"a":"GEMM","x":7.13,"l":25.7},
{"a":"GEMM","x":8.56,"l":24.4},
{"a":"SYRK","x":1,"h":100,"m":99.8,"l":83.7},
{"a":"SYRK","x":1.034,"h":97.6,"m":97.6,"l":77.5},
{"a":"SYRK","x":1.067,"h":91.6,"m":90.7,"l":72.2},
{"a":"SYRK","x":1.107,"h":87.2,"m":86.6,"l":67.2},
{"a":"SYRK","x":1.145,"h":83,"m":81.9,"l":63.1},
{"a":"SYRK","x":1.19,"h":79.3,"m":78,"l":59.8},
{"a":"SYRK","x":1.24,"h":77.5,"m":76.4,"l":56.9},
{"a":"SYRK","x":1.29,"h":75.5,"m":74.8,"l":54.4},
{"a":"SYRK","x":1.35,"h":74.9,"m":73.9,"l":52.4},
{"a":"SYRK","x":1.41,"h":73.6,"m":72.9,"l":50.3},
{"a":"SYRK","x":1.48,"h":71.9,"m":71.6,"l":48.7},
{"a":"SYRK","x":1.56,"h":70.8,"m":70.1,"l":47},
{"a":"SYRK","x":1.64,"h":69.4,"m":68.9,"l":45.8},
{"a":"SYRK","x":1.74,"h":68,"m":67.5,"l":44.6},
{"a":"SYRK","x":1.83,"h":66.7,"m":66,"l":43.3},
{"a":"SYRK","x":1.96,"h":65.8,"m":65,"l":42.5},
{"a":"SYRK","x":2.53,"l":37},
{"a":"SYRK","x":3.58,"l":33.7},
{"a":"SYRK","x":4.27,"l":32.3},
{"a":"SYRK","x":5.71,"l":29.9},
{"a":"SYRK","x":7.13,"l":28.6},
{"a":"SYRK","x":8.56,"l":27.1},
{"a":"md5hash","x":1,"h":100,"m":100,"l":86.5},
{"a":"md5hash","x":1.034,"h":97.4,"m":97.3,"l":79.2},
{"a":"md5hash","x":1.067,"h":91,"m":90.7,"l":72.8},
{"a":"md5hash","x":1.107,"h":85.3,"m":84.5,"l":66.9},
{"a":"md5hash","x":1.145,"h":80.4,"m":79.6,"l":62.1},
{"a":"md5hash","x":1.19,"h":75.8,"m":75,"l":58.1},
{"a":"md5hash","x":1.24,"h":74.2,"m":73.6,"l":54.7},
{"a":"md5hash","x":1.29,"h":72.7,"m":72.2,"l":51.8},
{"a":"md5hash","x":1.35,"h":71,"m":70.7,"l":49.3},
{"a":"md5hash","x":1.41,"h":69.3,"m":68.9,"l":46.9},
{"a":"md5hash","x":1.48,"h":67.8,"m":67.4,"l":44.9},
{"a":"md5hash","x":1.56,"h":66,"m":65.7,"l":43},
{"a":"md5hash","x":1.64,"h":64.5,"m":64.1,"l":41.5},
{"a":"md5hash","x":1.74,"h":62.7,"m":62.2,"l":40},
{"a":"md5hash","x":1.83,"h":60.9,"m":60.5,"l":38.6},
{"a":"md5hash","x":1.96,"h":59.2,"m":58.8,"l":37.6},
{"a":"md5hash","x":2.53,"l":33.7},
{"a":"md5hash","x":3.58,"l":29.9},
{"a":"md5hash","x":4.27,"l":27.1},
{"a":"md5hash","x":5.71,"l":24.4},
{"a":"md5hash","x":7.13,"l":23.1},
{"a":"md5hash","x":8.56,"l":22}
]
},
"spacing": 8,
"vconcat": [
{
"columns": 4,
"align": "each",
"bounds": "flush",
"spacing": {"row": 86, "column": 38},
"resolve": {"legend": {"color": "independent", "shape": "independent", "strokeDash": "independent"}},
"concat": [
{
 "width": 249, "height": 59,
 "title": {"text": "Class P1", "orient": "top", "frame": "group", "anchor": "middle", "offset": 0, "fontSize": 31, "fontWeight": "bold", "color": "#555"},
 "data": {"name": "d"},
 "transform": [{"filter": "false"}],
 "mark": {"type": "point", "filled": true},
 "encoding": {
  "color": {"field": "a", "type": "nominal", "scale": {"domain": ["2MM","Blackscholes","CORR","COVAR","FDTD-2D","GEMM","GRAMSCHM","SYRK","backprop","bfs","cfd","conjugateGradientUM","cutcp","fft","gaussian","histo","hotspot","kmeans","lbm","lud","matrixMulCUBLAS","md5hash","reduction","s3d","simpleCUFFT","sort","spmv","srad_v2","stencil2d","stencil2d_v2","streamcluster"]}, "legend": {"title": null, "orient": "none", "legendX": -14, "legendY": 3, "columns": 2, "symbolFillColor": "#000", "values": ["streamcluster","cfd","lbm","histo","kmeans","Blackscholes","conjugateGradientUM","reduction","stencil2d_v2","FDTD-2D","srad_v2","sort"]}},
  "shape": {"field": "a", "type": "nominal", "scale": {"domain": ["2MM","Blackscholes","CORR","COVAR","FDTD-2D","GEMM","GRAMSCHM","SYRK","backprop","bfs","cfd","conjugateGradientUM","cutcp","fft","gaussian","histo","hotspot","kmeans","lbm","lud","matrixMulCUBLAS","md5hash","reduction","s3d","simpleCUFFT","sort","spmv","srad_v2","stencil2d","stencil2d_v2","streamcluster"]}, "legend": {"title": null, "orient": "none", "legendX": -14, "legendY": 3, "columns": 2, "symbolFillColor": "#000", "values": ["streamcluster","cfd","lbm","histo","kmeans","Blackscholes","conjugateGradientUM","reduction","stencil2d_v2","FDTD-2D","srad_v2","sort"]}}
 }
},
{
 "width": 249, "height": 59,
 "title": {"text": "Class P2", "orient": "top", "frame": "group", "anchor": "middle", "offset": 0, "fontSize": 31, "fontWeight": "bold", "color": "#555"},
 "data": {"name": "d"},
 "transform": [{"filter": "false"}],
 "mark": {"type": "point", "filled": true},
 "encoding": {
  "color": {"field": "a", "type": "nominal", "legend": {"title": null, "orient": "none", "legendX": 58, "legendY": 30, "columns": 1, "symbolFillColor": "#000", "values": ["lud","matrixMulCUBLAS","simpleCUFFT"]}},
  "shape": {"field": "a", "type": "nominal", "legend": {"title": null, "orient": "none", "legendX": 58, "legendY": 30, "columns": 1, "symbolFillColor": "#000", "values": ["lud","matrixMulCUBLAS","simpleCUFFT"]}}
 }
},
{
 "width": 249, "height": 59,
 "title": {"text": "Class P3", "orient": "top", "frame": "group", "anchor": "middle", "offset": 0, "fontSize": 31, "fontWeight": "bold", "color": "#555"},
 "data": {"name": "d"},
 "transform": [{"filter": "false"}],
 "mark": {"type": "point", "filled": true},
 "encoding": {
  "color": {"field": "a", "type": "nominal", "legend": {"title": null, "orient": "none", "legendX": 32, "legendY": 13, "columns": 2, "symbolFillColor": "#000", "values": ["CORR","COVAR","gaussian","hotspot","spmv","stencil2d","GRAMSCHM","bfs","fft","s3d"]}},
  "shape": {"field": "a", "type": "nominal", "legend": {"title": null, "orient": "none", "legendX": 32, "legendY": 13, "columns": 2, "symbolFillColor": "#000", "values": ["CORR","COVAR","gaussian","hotspot","spmv","stencil2d","GRAMSCHM","bfs","fft","s3d"]}}
 }
},
{
 "width": 249, "height": 59,
 "title": {"text": "Class P4", "orient": "top", "frame": "group", "anchor": "middle", "offset": 0, "fontSize": 31, "fontWeight": "bold", "color": "#555"},
 "data": {"name": "d"},
 "transform": [{"filter": "false"}],
 "mark": {"type": "point", "filled": true},
 "encoding": {
  "color": {"field": "a", "type": "nominal", "legend": {"title": null, "orient": "none", "legendX": 41, "legendY": 33, "columns": 2, "symbolFillColor": "#000", "values": ["cutcp","backprop","2MM","GEMM","SYRK","md5hash"]}},
  "shape": {"field": "a", "type": "nominal", "legend": {"title": null, "orient": "none", "legendX": 41, "legendY": 33, "columns": 2, "symbolFillColor": "#000", "values": ["cutcp","backprop","2MM","GEMM","SYRK","md5hash"]}}
 }
},
{
 "width": 249, "height": 242,
 "title": {"text": "FMem=3505 MHz", "orient": "left", "frame": "group", "anchor": "middle", "offset": 3, "dx": -21, "fontSize": 27, "fontWeight": "bold", "color": "#555"},
 "layer": [
  {"data": {"name": "d"}, "transform": [{"filter": {"field": "a", "oneOf": ["streamcluster","cfd","lbm","histo","kmeans","Blackscholes","conjugateGradientUM","reduction","stencil2d_v2","FDTD-2D","srad_v2","sort"]}}],
   "mark": {"type": "line", "strokeWidth": 1},
   "encoding": {
    "x": {"field": "x", "type": "quantitative", "scale": {"domain": [1, 2], "nice": false, "zero": false}, "axis": {"values": [1, 1.5, 2], "format": "~g", "title": "FRef / FCore"}},
    "y": {"field": "h", "type": "quantitative", "scale": {"domain": [50, 100], "nice": false, "zero": false}, "axis": {"values": [50, 60, 70, 80, 90, 100], "title": "Power Consumption Change [%]", "titleY": 135}},
    "color": {"field": "a", "type": "nominal", "legend": null}}},
  {"data": {"name": "d"}, "transform": [{"filter": {"field": "a", "oneOf": ["streamcluster","cfd","lbm","histo","kmeans","Blackscholes","conjugateGradientUM","reduction","stencil2d_v2","FDTD-2D","srad_v2","sort"]}}],
   "mark": {"type": "point", "filled": true, "size": 121, "opacity": 1},
   "encoding": {"x": {"field": "x", "type": "quantitative"}, "y": {"field": "h", "type": "quantitative"}, "color": {"field": "a", "type": "nominal", "legend": null}, "shape": {"field": "a", "type": "nominal", "legend": null}}},
  {"data": {"name": "ref"}, "mark": {"type": "line", "color": "#000", "strokeWidth": 1, "clip": true},
   "encoding": {"x": {"field": "x", "type": "quantitative"}, "y": {"field": "h", "type": "quantitative"},
    "strokeDash": {"field": "s", "type": "nominal", "scale": {"range": [[8, 10]]}, "legend": {"title": null, "orient": "top-right", "offset": 3, "symbolType": "stroke", "symbolStrokeWidth": 1, "symbolSize": 1000, "symbolStrokeColor": "#000", "labelFontWeight": "normal", "labelFontSize": 13, "padding": 5, "strokeColor": "#333"}}}},
  {"data": {"values": [{}]}, "mark": {"type": "rect", "filled": false, "stroke": "#a8a8a8", "strokeWidth": 5, "cornerRadius": 10}, "encoding": {"x": {"datum": 0.6707}, "x2": {"datum": 5.494}, "y": {"datum": 102.69}, "y2": {"datum": 37.6}}},
  {"data": {"values": [{}]}, "mark": {"type": "rule", "color": "#111", "strokeWidth": 2.2}, "encoding": {"x": {"datum": 1}, "x2": {"datum": 1.948}, "y": {"datum": 62.81}}},
  {"data": {"values": [{}]}, "mark": {"type": "rule", "color": "#111", "strokeWidth": 2.2}, "encoding": {"x": {"datum": 1}, "y": {"datum": 64.46}, "y2": {"datum": 61.16}}},
  {"data": {"values": [{}]}, "mark": {"type": "rule", "color": "#111", "strokeWidth": 2.2}, "encoding": {"x": {"datum": 1.1446}, "y": {"datum": 64.46}, "y2": {"datum": 61.16}}},
  {"data": {"values": [{}]}, "mark": {"type": "rule", "color": "#111", "strokeWidth": 2.2}, "encoding": {"x": {"datum": 1.948}, "y": {"datum": 64.46}, "y2": {"datum": 61.16}}},
  {"data": {"values": [{}]}, "mark": {"type": "text", "text": "(4a)", "fontSize": 25, "fontWeight": "bold", "color": "#111"}, "encoding": {"x": {"datum": 1.0763}, "y": {"datum": 58.47}}},
  {"data": {"values": [{}]}, "mark": {"type": "text", "text": "(4b)", "fontSize": 25, "fontWeight": "bold", "color": "#111"}, "encoding": {"x": {"datum": 1.5462}, "y": {"datum": 59.09}}},
  {"data": {"values": [{}]}, "mark": {"type": "text", "text": "(2)", "fontSize": 25, "fontWeight": "bold", "color": "#111"}, "encoding": {"x": {"datum": 1.0803}, "y": {"datum": 74.59}}},
  {"data": {"values": [{}]}, "mark": {"type": "rule", "color": "#111", "strokeWidth": 2.2}, "encoding": {"x": {"datum": 1.0884}, "y": {"datum": 77.89}, "x2": {"datum": 1.1225}, "y2": {"datum": 84.9}}},
  {"data": {"values": [{}]}, "mark": {"type": "point", "shape": "M0,0L0.62,1.5L-0.62,1.5Z", "size": 100, "filled": true, "color": "#111", "opacity": 1, "angle": 13}, "encoding": {"x": {"datum": 1.1245}, "y": {"datum": 85.95}}}
 ]
},
{
 "width": 249, "height": 242,
 "layer": [
  {"data": {"name": "shade"}, "transform": [{"filter": "datum.c == 'P2'"}], "mark": {"type": "area", "color": "#c4c4c4", "opacity": 0.9},
   "encoding": {"x": {"field": "x", "type": "quantitative"}, "y": {"field": "lo", "type": "quantitative"}, "y2": {"field": "hi"}}},
  {"data": {"name": "d"}, "transform": [{"filter": {"field": "a", "oneOf": ["lud","matrixMulCUBLAS","simpleCUFFT"]}}],
   "mark": {"type": "line", "strokeWidth": 1},
   "encoding": {
    "x": {"field": "x", "type": "quantitative", "scale": {"domain": [1, 2], "nice": false, "zero": false}, "axis": {"values": [1, 1.5, 2], "format": "~g", "title": "FRef / FCore"}},
    "y": {"field": "h", "type": "quantitative", "scale": {"domain": [50, 100], "nice": false, "zero": false}, "axis": {"values": [50, 60, 70, 80, 90, 100], "labels": false, "title": null}},
    "color": {"field": "a", "type": "nominal", "legend": null}}},
  {"data": {"name": "d"}, "transform": [{"filter": {"field": "a", "oneOf": ["lud","matrixMulCUBLAS","simpleCUFFT"]}}],
   "mark": {"type": "point", "filled": true, "size": 121, "opacity": 1},
   "encoding": {"x": {"field": "x", "type": "quantitative"}, "y": {"field": "h", "type": "quantitative"}, "color": {"field": "a", "type": "nominal", "legend": null}, "shape": {"field": "a", "type": "nominal", "legend": null}}},
  {"data": {"name": "ref"}, "mark": {"type": "line", "color": "#000", "strokeWidth": 1, "clip": true},
   "encoding": {"x": {"field": "x", "type": "quantitative"}, "y": {"field": "h", "type": "quantitative"}, "strokeDash": {"field": "s", "type": "nominal", "legend": null}}},
  {"data": {"values": [{}]}, "mark": {"type": "text", "text": "(2)", "fontSize": 25, "fontWeight": "bold", "color": "#111"}, "encoding": {"x": {"datum": 1.0924}, "y": {"datum": 69.21}}},
  {"data": {"values": [{}]}, "mark": {"type": "rule", "color": "#111", "strokeWidth": 2.2}, "encoding": {"x": {"datum": 1.1245}, "y": {"datum": 72.93}, "x2": {"datum": 1.1725}, "y2": {"datum": 78.9}}},
  {"data": {"values": [{}]}, "mark": {"type": "point", "shape": "M0,0L0.62,1.5L-0.62,1.5Z", "size": 100, "filled": true, "color": "#111", "opacity": 1, "angle": 21}, "encoding": {"x": {"datum": 1.1767}, "y": {"datum": 79.96}}},
  {"data": {"values": [{}]}, "mark": {"type": "text", "text": "(3)", "fontSize": 25, "fontWeight": "bold", "color": "#111"}, "encoding": {"x": {"datum": 1.3373}, "y": {"datum": 98.97}}},
  {"data": {"values": [{}]}, "mark": {"type": "rule", "color": "#111", "strokeWidth": 2.2}, "encoding": {"x": {"datum": 1.2691}, "x2": {"datum": 1.1045}, "y": {"datum": 98.97}}},
  {"data": {"values": [{}]}, "mark": {"type": "point", "shape": "M0,0L0.62,1.5L-0.62,1.5Z", "size": 100, "filled": true, "color": "#111", "opacity": 1, "angle": 270}, "encoding": {"x": {"datum": 1.0964}, "y": {"datum": 98.97}}}
 ]
},
{
 "width": 249, "height": 242,
 "layer": [
  {"data": {"name": "d"}, "transform": [{"filter": {"field": "a", "oneOf": ["CORR","COVAR","gaussian","hotspot","spmv","stencil2d","GRAMSCHM","bfs","fft","s3d"]}}],
   "mark": {"type": "line", "strokeWidth": 1},
   "encoding": {
    "x": {"field": "x", "type": "quantitative", "scale": {"domain": [1, 2], "nice": false, "zero": false}, "axis": {"values": [1, 1.5, 2], "format": "~g", "title": "FRef / FCore"}},
    "y": {"field": "h", "type": "quantitative", "scale": {"domain": [50, 100], "nice": false, "zero": false}, "axis": {"values": [50, 60, 70, 80, 90, 100], "labels": false, "title": null}},
    "color": {"field": "a", "type": "nominal", "legend": null}}},
  {"data": {"name": "d"}, "transform": [{"filter": {"field": "a", "oneOf": ["CORR","COVAR","gaussian","hotspot","spmv","stencil2d","GRAMSCHM","bfs","fft","s3d"]}}],
   "mark": {"type": "point", "filled": true, "size": 121, "opacity": 1},
   "encoding": {"x": {"field": "x", "type": "quantitative"}, "y": {"field": "h", "type": "quantitative"}, "color": {"field": "a", "type": "nominal", "legend": null}, "shape": {"field": "a", "type": "nominal", "legend": null}}},
  {"data": {"name": "ref"}, "mark": {"type": "line", "color": "#000", "strokeWidth": 1, "clip": true},
   "encoding": {"x": {"field": "x", "type": "quantitative"}, "y": {"field": "h", "type": "quantitative"}, "strokeDash": {"field": "s", "type": "nominal", "legend": null}}},
  {"data": {"values": [{}]}, "mark": {"type": "text", "text": "(2)", "fontSize": 25, "fontWeight": "bold", "color": "#111"}, "encoding": {"x": {"datum": 1.0763}, "y": {"datum": 73.55}}},
  {"data": {"values": [{}]}, "mark": {"type": "rule", "color": "#111", "strokeWidth": 2.2}, "encoding": {"x": {"datum": 1.1245}, "y": {"datum": 77.07}, "x2": {"datum": 1.151}, "y2": {"datum": 83}}},
  {"data": {"values": [{}]}, "mark": {"type": "point", "shape": "M0,0L0.62,1.5L-0.62,1.5Z", "size": 100, "filled": true, "color": "#111", "opacity": 1, "angle": 12}, "encoding": {"x": {"datum": 1.1526}, "y": {"datum": 84.09}}}
 ]
},
{
 "width": 249, "height": 242,
 "layer": [
  {"data": {"name": "shade"}, "transform": [{"filter": "datum.c == 'P4'"}], "mark": {"type": "area", "color": "#c4c4c4", "opacity": 0.9},
   "encoding": {"x": {"field": "x", "type": "quantitative"}, "y": {"field": "lo", "type": "quantitative"}, "y2": {"field": "hi"}}},
  {"data": {"name": "d"}, "transform": [{"filter": {"field": "a", "oneOf": ["cutcp","backprop","2MM","GEMM","SYRK","md5hash"]}}],
   "mark": {"type": "line", "strokeWidth": 1},
   "encoding": {
    "x": {"field": "x", "type": "quantitative", "scale": {"domain": [1, 2], "nice": false, "zero": false}, "axis": {"values": [1, 1.5, 2], "format": "~g", "title": "FRef / FCore"}},
    "y": {"field": "h", "type": "quantitative", "scale": {"domain": [50, 100], "nice": false, "zero": false}, "axis": {"values": [50, 60, 70, 80, 90, 100], "labels": false, "title": null}},
    "color": {"field": "a", "type": "nominal", "legend": null}}},
  {"data": {"name": "d"}, "transform": [{"filter": {"field": "a", "oneOf": ["cutcp","backprop","2MM","GEMM","SYRK","md5hash"]}}],
   "mark": {"type": "point", "filled": true, "size": 121, "opacity": 1},
   "encoding": {"x": {"field": "x", "type": "quantitative"}, "y": {"field": "h", "type": "quantitative"}, "color": {"field": "a", "type": "nominal", "legend": null}, "shape": {"field": "a", "type": "nominal", "legend": null}}},
  {"data": {"name": "ref"}, "mark": {"type": "line", "color": "#000", "strokeWidth": 1, "clip": true},
   "encoding": {"x": {"field": "x", "type": "quantitative"}, "y": {"field": "h", "type": "quantitative"}, "strokeDash": {"field": "s", "type": "nominal", "legend": null}}},
  {"data": {"values": [{}]}, "mark": {"type": "text", "text": "(2)", "fontSize": 25, "fontWeight": "bold", "color": "#111"}, "encoding": {"x": {"datum": 1.3735}, "y": {"datum": 87.19}}},
  {"data": {"values": [{}]}, "mark": {"type": "rule", "color": "#111", "strokeWidth": 2.2}, "encoding": {"x": {"datum": 1.3052}, "y": {"datum": 86.36}, "x2": {"datum": 1.2}, "y2": {"datum": 84.05}}},
  {"data": {"values": [{}]}, "mark": {"type": "point", "shape": "M0,0L0.62,1.5L-0.62,1.5Z", "size": 100, "filled": true, "color": "#111", "opacity": 1, "angle": 247}, "encoding": {"x": {"datum": 1.1928}, "y": {"datum": 83.88}}}
 ]
},
{
 "width": 249, "height": 242,
 "title": {"text": "FMem=3300 MHz", "orient": "left", "frame": "group", "anchor": "middle", "offset": 3, "dx": -26, "fontSize": 27, "fontWeight": "bold", "color": "#555"},
 "layer": [
  {"data": {"name": "d"}, "transform": [{"filter": {"field": "a", "oneOf": ["streamcluster","cfd","lbm","histo","kmeans","Blackscholes","conjugateGradientUM","reduction","stencil2d_v2","FDTD-2D","srad_v2","sort"]}}],
   "mark": {"type": "line", "strokeWidth": 1},
   "encoding": {
    "x": {"field": "x", "type": "quantitative", "scale": {"domain": [1, 2], "nice": false, "zero": false}, "axis": {"values": [1, 1.5, 2], "format": "~g", "title": "FRef / FCore"}},
    "y": {"field": "m", "type": "quantitative", "scale": {"domain": [50, 100], "nice": false, "zero": false}, "axis": {"values": [50, 60, 70, 80, 90, 100], "title": "Power Consumption Change [%]", "titleY": 135}},
    "color": {"field": "a", "type": "nominal", "legend": null}}},
  {"data": {"name": "d"}, "transform": [{"filter": {"field": "a", "oneOf": ["streamcluster","cfd","lbm","histo","kmeans","Blackscholes","conjugateGradientUM","reduction","stencil2d_v2","FDTD-2D","srad_v2","sort"]}}],
   "mark": {"type": "point", "filled": true, "size": 121, "opacity": 1},
   "encoding": {"x": {"field": "x", "type": "quantitative"}, "y": {"field": "m", "type": "quantitative"}, "color": {"field": "a", "type": "nominal", "legend": null}, "shape": {"field": "a", "type": "nominal", "legend": null}}},
  {"data": {"name": "ref"}, "mark": {"type": "line", "color": "#000", "strokeWidth": 1, "clip": true},
   "encoding": {"x": {"field": "x", "type": "quantitative"}, "y": {"field": "m", "type": "quantitative"}, "strokeDash": {"field": "s", "type": "nominal", "legend": null}}},
  {"data": {"values": [{}]}, "mark": {"type": "rect", "filled": false, "stroke": "#a8a8a8", "strokeWidth": 5, "cornerRadius": 10}, "encoding": {"x": {"datum": 0.6707}, "x2": {"datum": 5.494}, "y": {"datum": 102.48}, "y2": {"datum": 38.22}}}
 ]
},
{
 "width": 249, "height": 242,
 "layer": [
  {"data": {"name": "d"}, "transform": [{"filter": {"field": "a", "oneOf": ["lud","matrixMulCUBLAS","simpleCUFFT"]}}],
   "mark": {"type": "line", "strokeWidth": 1},
   "encoding": {
    "x": {"field": "x", "type": "quantitative", "scale": {"domain": [1, 2], "nice": false, "zero": false}, "axis": {"values": [1, 1.5, 2], "format": "~g", "title": "FRef / FCore"}},
    "y": {"field": "m", "type": "quantitative", "scale": {"domain": [50, 100], "nice": false, "zero": false}, "axis": {"values": [50, 60, 70, 80, 90, 100], "labels": false, "title": null}},
    "color": {"field": "a", "type": "nominal", "legend": null}}},
  {"data": {"name": "d"}, "transform": [{"filter": {"field": "a", "oneOf": ["lud","matrixMulCUBLAS","simpleCUFFT"]}}],
   "mark": {"type": "point", "filled": true, "size": 121, "opacity": 1},
   "encoding": {"x": {"field": "x", "type": "quantitative"}, "y": {"field": "m", "type": "quantitative"}, "color": {"field": "a", "type": "nominal", "legend": null}, "shape": {"field": "a", "type": "nominal", "legend": null}}},
  {"data": {"name": "ref"}, "mark": {"type": "line", "color": "#000", "strokeWidth": 1, "clip": true},
   "encoding": {"x": {"field": "x", "type": "quantitative"}, "y": {"field": "m", "type": "quantitative"}, "strokeDash": {"field": "s", "type": "nominal", "legend": null}}}
 ]
},
{
 "width": 249, "height": 242,
 "layer": [
  {"data": {"name": "d"}, "transform": [{"filter": {"field": "a", "oneOf": ["CORR","COVAR","gaussian","hotspot","spmv","stencil2d","GRAMSCHM","bfs","fft","s3d"]}}],
   "mark": {"type": "line", "strokeWidth": 1},
   "encoding": {
    "x": {"field": "x", "type": "quantitative", "scale": {"domain": [1, 2], "nice": false, "zero": false}, "axis": {"values": [1, 1.5, 2], "format": "~g", "title": "FRef / FCore"}},
    "y": {"field": "m", "type": "quantitative", "scale": {"domain": [50, 100], "nice": false, "zero": false}, "axis": {"values": [50, 60, 70, 80, 90, 100], "labels": false, "title": null}},
    "color": {"field": "a", "type": "nominal", "legend": null}}},
  {"data": {"name": "d"}, "transform": [{"filter": {"field": "a", "oneOf": ["CORR","COVAR","gaussian","hotspot","spmv","stencil2d","GRAMSCHM","bfs","fft","s3d"]}}],
   "mark": {"type": "point", "filled": true, "size": 121, "opacity": 1},
   "encoding": {"x": {"field": "x", "type": "quantitative"}, "y": {"field": "m", "type": "quantitative"}, "color": {"field": "a", "type": "nominal", "legend": null}, "shape": {"field": "a", "type": "nominal", "legend": null}}},
  {"data": {"name": "ref"}, "mark": {"type": "line", "color": "#000", "strokeWidth": 1, "clip": true},
   "encoding": {"x": {"field": "x", "type": "quantitative"}, "y": {"field": "m", "type": "quantitative"}, "strokeDash": {"field": "s", "type": "nominal", "legend": null}}}
 ]
},
{
 "width": 249, "height": 242,
 "layer": [
  {"data": {"name": "d"}, "transform": [{"filter": {"field": "a", "oneOf": ["cutcp","backprop","2MM","GEMM","SYRK","md5hash"]}}],
   "mark": {"type": "line", "strokeWidth": 1},
   "encoding": {
    "x": {"field": "x", "type": "quantitative", "scale": {"domain": [1, 2], "nice": false, "zero": false}, "axis": {"values": [1, 1.5, 2], "format": "~g", "title": "FRef / FCore"}},
    "y": {"field": "m", "type": "quantitative", "scale": {"domain": [50, 100], "nice": false, "zero": false}, "axis": {"values": [50, 60, 70, 80, 90, 100], "labels": false, "title": null}},
    "color": {"field": "a", "type": "nominal", "legend": null}}},
  {"data": {"name": "d"}, "transform": [{"filter": {"field": "a", "oneOf": ["cutcp","backprop","2MM","GEMM","SYRK","md5hash"]}}],
   "mark": {"type": "point", "filled": true, "size": 121, "opacity": 1},
   "encoding": {"x": {"field": "x", "type": "quantitative"}, "y": {"field": "m", "type": "quantitative"}, "color": {"field": "a", "type": "nominal", "legend": null}, "shape": {"field": "a", "type": "nominal", "legend": null}}},
  {"data": {"name": "ref"}, "mark": {"type": "line", "color": "#000", "strokeWidth": 1, "clip": true},
   "encoding": {"x": {"field": "x", "type": "quantitative"}, "y": {"field": "m", "type": "quantitative"}, "strokeDash": {"field": "s", "type": "nominal", "legend": null}}}
 ]
},
{
 "width": 249, "height": 242,
 "title": {"text": "FMem=810 MHz", "orient": "left", "frame": "group", "anchor": "middle", "offset": 3, "dx": -25, "fontSize": 27, "fontWeight": "bold", "color": "#555"},
 "layer": [
  {"data": {"name": "d"}, "transform": [{"filter": {"field": "a", "oneOf": ["streamcluster","cfd","lbm","histo","kmeans","Blackscholes","conjugateGradientUM","reduction","stencil2d_v2","FDTD-2D","srad_v2","sort"]}}],
   "mark": {"type": "line", "strokeWidth": 1},
   "encoding": {
    "x": {"field": "x", "type": "quantitative", "scale": {"domain": [1, 9], "nice": false, "zero": false}, "axis": {"values": [2, 4, 6, 8], "format": "d", "title": "FRef / FCore"}},
    "y": {"field": "l", "type": "quantitative", "scale": {"domain": [20, 100], "nice": false, "zero": false}, "axis": {"values": [20, 40, 60, 80, 100], "title": "Power Consumption Change [%]", "titleY": 135}},
    "color": {"field": "a", "type": "nominal", "legend": null}}},
  {"data": {"name": "d"}, "transform": [{"filter": {"field": "a", "oneOf": ["streamcluster","cfd","lbm","histo","kmeans","Blackscholes","conjugateGradientUM","reduction","stencil2d_v2","FDTD-2D","srad_v2","sort"]}}],
   "mark": {"type": "point", "filled": true, "size": 121, "opacity": 1},
   "encoding": {"x": {"field": "x", "type": "quantitative"}, "y": {"field": "l", "type": "quantitative"}, "color": {"field": "a", "type": "nominal", "legend": null}, "shape": {"field": "a", "type": "nominal", "legend": null}}},
  {"data": {"name": "ref"}, "mark": {"type": "line", "color": "#000", "strokeWidth": 1, "clip": true},
   "encoding": {"x": {"field": "x", "type": "quantitative"}, "y": {"field": "l", "type": "quantitative"}, "strokeDash": {"field": "s", "type": "nominal", "legend": null}}},
  {"data": {"values": [{}]}, "mark": {"type": "rect", "filled": false, "stroke": "#a8a8a8", "strokeWidth": 5, "cornerRadius": 10}, "encoding": {"x": {"datum": -1.6345}, "x2": {"datum": 36.952}, "y": {"datum": 103.31}, "y2": {"datum": -10.41}}},
  {"data": {"values": [{}]}, "mark": {"type": "point", "shape": "M-1,-0.083L0.65,-0.083L0.65,-0.19L1,0L0.65,0.19L0.65,0.083L-1,0.083Z", "size": 58081, "filled": true, "fill": "#d3d3d3", "stroke": "#000", "strokeWidth": 1.5, "opacity": 1}, "encoding": {"x": {"datum": 5}, "y": {"datum": -1.82}}},
  {"data": {"values": [{}]}, "mark": {"type": "text", "text": "Core Frequency Downscaling", "fontSize": 15.5, "color": "#222"}, "encoding": {"x": {"datum": 5}, "y": {"datum": -1.82}}},
  {"data": {"values": [{}]}, "mark": {"type": "text", "text": "(1)", "fontSize": 25, "fontWeight": "bold", "color": "#111"}, "encoding": {"x": {"datum": 2.799}, "y": {"datum": 72.23}}},
  {"data": {"values": [{}]}, "mark": {"type": "rule", "color": "#111", "strokeWidth": 2.2}, "encoding": {"x": {"datum": 2.317}, "y": {"datum": 69.59}, "x2": {"datum": 1.45}, "y2": {"datum": 63.5}}},
  {"data": {"values": [{}]}, "mark": {"type": "point", "shape": "M0,0L0.62,1.5L-0.62,1.5Z", "size": 100, "filled": true, "color": "#111", "opacity": 1, "angle": 235}, "encoding": {"x": {"datum": 1.289}, "y": {"datum": 62.31}}}
 ]
},
{
 "width": 249, "height": 242,
 "layer": [
  {"data": {"name": "d"}, "transform": [{"filter": {"field": "a", "oneOf": ["lud","matrixMulCUBLAS","simpleCUFFT"]}}],
   "mark": {"type": "line", "strokeWidth": 1},
   "encoding": {
    "x": {"field": "x", "type": "quantitative", "scale": {"domain": [1, 9], "nice": false, "zero": false}, "axis": {"values": [2, 4, 6, 8], "format": "d", "title": "FRef / FCore"}},
    "y": {"field": "l", "type": "quantitative", "scale": {"domain": [20, 100], "nice": false, "zero": false}, "axis": {"values": [20, 40, 60, 80, 100], "labels": false, "title": null}},
    "color": {"field": "a", "type": "nominal", "legend": null}}},
  {"data": {"name": "d"}, "transform": [{"filter": {"field": "a", "oneOf": ["lud","matrixMulCUBLAS","simpleCUFFT"]}}],
   "mark": {"type": "point", "filled": true, "size": 121, "opacity": 1},
   "encoding": {"x": {"field": "x", "type": "quantitative"}, "y": {"field": "l", "type": "quantitative"}, "color": {"field": "a", "type": "nominal", "legend": null}, "shape": {"field": "a", "type": "nominal", "legend": null}}},
  {"data": {"name": "ref"}, "mark": {"type": "line", "color": "#000", "strokeWidth": 1, "clip": true},
   "encoding": {"x": {"field": "x", "type": "quantitative"}, "y": {"field": "l", "type": "quantitative"}, "strokeDash": {"field": "s", "type": "nominal", "legend": null}}},
  {"data": {"values": [{}]}, "mark": {"type": "rule", "color": "#000", "strokeWidth": 1.3}, "encoding": {"x": {"datum": 0.3896}, "y": {"datum": 369.75}, "y2": {"datum": 3.8}}},
  {"data": {"values": [{}]}, "mark": {"type": "point", "shape": "M-1,-0.083L0.65,-0.083L0.65,-0.19L1,0L0.65,0.19L0.65,0.083L-1,0.083Z", "size": 58081, "filled": true, "fill": "#d3d3d3", "stroke": "#000", "strokeWidth": 1.5, "opacity": 1}, "encoding": {"x": {"datum": 5}, "y": {"datum": -1.82}}},
  {"data": {"values": [{}]}, "mark": {"type": "text", "text": "Core Frequency Downscaling", "fontSize": 15.5, "color": "#222"}, "encoding": {"x": {"datum": 5}, "y": {"datum": -1.82}}},
  {"data": {"values": [{}]}, "mark": {"type": "text", "text": "(1)", "fontSize": 25, "fontWeight": "bold", "color": "#111"}, "encoding": {"x": {"datum": 2.831}, "y": {"datum": 67.27}}},
  {"data": {"values": [{}]}, "mark": {"type": "rule", "color": "#111", "strokeWidth": 2.2}, "encoding": {"x": {"datum": 2.221}, "y": {"datum": 63.97}, "x2": {"datum": 1.39}, "y2": {"datum": 57.1}}},
  {"data": {"values": [{}]}, "mark": {"type": "point", "shape": "M0,0L0.62,1.5L-0.62,1.5Z", "size": 100, "filled": true, "color": "#111", "opacity": 1, "angle": 231}, "encoding": {"x": {"datum": 1.225}, "y": {"datum": 55.7}}}
 ]
},
{
 "width": 249, "height": 242,
 "layer": [
  {"data": {"name": "d"}, "transform": [{"filter": {"field": "a", "oneOf": ["CORR","COVAR","gaussian","hotspot","spmv","stencil2d","GRAMSCHM","bfs","fft","s3d"]}}],
   "mark": {"type": "line", "strokeWidth": 1},
   "encoding": {
    "x": {"field": "x", "type": "quantitative", "scale": {"domain": [1, 9], "nice": false, "zero": false}, "axis": {"values": [2, 4, 6, 8], "format": "d", "title": "FRef / FCore"}},
    "y": {"field": "l", "type": "quantitative", "scale": {"domain": [20, 100], "nice": false, "zero": false}, "axis": {"values": [20, 40, 60, 80, 100], "labels": false, "title": null}},
    "color": {"field": "a", "type": "nominal", "legend": null}}},
  {"data": {"name": "d"}, "transform": [{"filter": {"field": "a", "oneOf": ["CORR","COVAR","gaussian","hotspot","spmv","stencil2d","GRAMSCHM","bfs","fft","s3d"]}}],
   "mark": {"type": "point", "filled": true, "size": 121, "opacity": 1},
   "encoding": {"x": {"field": "x", "type": "quantitative"}, "y": {"field": "l", "type": "quantitative"}, "color": {"field": "a", "type": "nominal", "legend": null}, "shape": {"field": "a", "type": "nominal", "legend": null}}},
  {"data": {"name": "ref"}, "mark": {"type": "line", "color": "#000", "strokeWidth": 1, "clip": true},
   "encoding": {"x": {"field": "x", "type": "quantitative"}, "y": {"field": "l", "type": "quantitative"}, "strokeDash": {"field": "s", "type": "nominal", "legend": null}}},
  {"data": {"values": [{}]}, "mark": {"type": "rule", "color": "#000", "strokeWidth": 1.3}, "encoding": {"x": {"datum": 0.3574}, "y": {"datum": 369.75}, "y2": {"datum": 3.8}}},
  {"data": {"values": [{}]}, "mark": {"type": "point", "shape": "M-1,-0.083L0.65,-0.083L0.65,-0.19L1,0L0.65,0.19L0.65,0.083L-1,0.083Z", "size": 58081, "filled": true, "fill": "#d3d3d3", "stroke": "#000", "strokeWidth": 1.5, "opacity": 1}, "encoding": {"x": {"datum": 5}, "y": {"datum": -1.82}}},
  {"data": {"values": [{}]}, "mark": {"type": "text", "text": "Core Frequency Downscaling", "fontSize": 15.5, "color": "#222"}, "encoding": {"x": {"datum": 5}, "y": {"datum": -1.82}}},
  {"data": {"values": [{}]}, "mark": {"type": "text", "text": "(1)", "fontSize": 25, "fontWeight": "bold", "color": "#111"}, "encoding": {"x": {"datum": 2.799}, "y": {"datum": 81.16}}},
  {"data": {"values": [{}]}, "mark": {"type": "rule", "color": "#111", "strokeWidth": 2.2}, "encoding": {"x": {"datum": 2.253}, "y": {"datum": 77.85}, "x2": {"datum": 1.5}, "y2": {"datum": 71.8}}},
  {"data": {"values": [{}]}, "mark": {"type": "point", "shape": "M0,0L0.62,1.5L-0.62,1.5Z", "size": 100, "filled": true, "color": "#111", "opacity": 1, "angle": 232}, "encoding": {"x": {"datum": 1.353}, "y": {"datum": 70.58}}}
 ]
},
{
 "width": 249, "height": 242,
 "layer": [
  {"data": {"name": "d"}, "transform": [{"filter": {"field": "a", "oneOf": ["cutcp","backprop","2MM","GEMM","SYRK","md5hash"]}}],
   "mark": {"type": "line", "strokeWidth": 1},
   "encoding": {
    "x": {"field": "x", "type": "quantitative", "scale": {"domain": [1, 9], "nice": false, "zero": false}, "axis": {"values": [2, 4, 6, 8], "format": "d", "title": "FRef / FCore"}},
    "y": {"field": "l", "type": "quantitative", "scale": {"domain": [20, 100], "nice": false, "zero": false}, "axis": {"values": [20, 40, 60, 80, 100], "labels": false, "title": null}},
    "color": {"field": "a", "type": "nominal", "legend": null}}},
  {"data": {"name": "d"}, "transform": [{"filter": {"field": "a", "oneOf": ["cutcp","backprop","2MM","GEMM","SYRK","md5hash"]}}],
   "mark": {"type": "point", "filled": true, "size": 121, "opacity": 1},
   "encoding": {"x": {"field": "x", "type": "quantitative"}, "y": {"field": "l", "type": "quantitative"}, "color": {"field": "a", "type": "nominal", "legend": null}, "shape": {"field": "a", "type": "nominal", "legend": null}}},
  {"data": {"name": "ref"}, "mark": {"type": "line", "color": "#000", "strokeWidth": 1, "clip": true},
   "encoding": {"x": {"field": "x", "type": "quantitative"}, "y": {"field": "l", "type": "quantitative"}, "strokeDash": {"field": "s", "type": "nominal", "legend": null}}},
  {"data": {"values": [{}]}, "mark": {"type": "rule", "color": "#000", "strokeWidth": 1.3}, "encoding": {"x": {"datum": 0.3574}, "y": {"datum": 369.75}, "y2": {"datum": 3.8}}},
  {"data": {"values": [{}]}, "mark": {"type": "point", "shape": "M-1,-0.083L0.65,-0.083L0.65,-0.19L1,0L0.65,0.19L0.65,0.083L-1,0.083Z", "size": 58081, "filled": true, "fill": "#d3d3d3", "stroke": "#000", "strokeWidth": 1.5, "opacity": 1}, "encoding": {"x": {"datum": 5}, "y": {"datum": -1.82}}},
  {"data": {"values": [{}]}, "mark": {"type": "text", "text": "Core Frequency Downscaling", "fontSize": 15.5, "color": "#222"}, "encoding": {"x": {"datum": 5}, "y": {"datum": -1.82}}},
  {"data": {"values": [{}]}, "mark": {"type": "text", "text": "(1)", "fontSize": 25, "fontWeight": "bold", "color": "#111"}, "encoding": {"x": {"datum": 2.767}, "y": {"datum": 88.76}}},
  {"data": {"values": [{}]}, "mark": {"type": "rule", "color": "#111", "strokeWidth": 2.2}, "encoding": {"x": {"datum": 2.253}, "y": {"datum": 85.12}, "x2": {"datum": 1.35}, "y2": {"datum": 79.2}}},
  {"data": {"values": [{}]}, "mark": {"type": "point", "shape": "M0,0L0.62,1.5L-0.62,1.5Z", "size": 100, "filled": true, "color": "#111", "opacity": 1, "angle": 237}, "encoding": {"x": {"datum": 1.193}, "y": {"datum": 78.18}}}
 ]
}
]
},
{
 "width": 1105, "height": 190,
 "data": {"values": [
  {"ln": 1, "tag": "(1)", "t": "At memory frequency 810 MHz, applications from classes P1 and P2 have power-savings between 30% to 50%, while"},
  {"ln": 2, "tag": "", "t": "applications from classes P3 and P4 have power-savings between 10% to 30%."},
  {"ln": 3, "tag": "(2)", "t": "At memory frequency 3505 MHz, in the frequency range FRef/FCore <1.15,  classes P1and P3 have linear or sub-linear"},
  {"ln": 4, "tag": "", "t": "variation of the power consumption, while applications from classes P2 and P4 have super-linear variations."},
  {"ln": 5, "tag": "(3)", "t": "matrixMulCUBLAS application is hitting the device power cap, the power-consumption curve"},
  {"ln": 6, "tag": "(4)", "t": "At memory frequency 3505 MHz, the power-consumption variation of applicaitons can be divided in two parts - (4a) and"},
  {"ln": 7, "tag": "", "t": "(4b) - with distinct slopes."}
 ]},
 "layer": [
  {"data": {"values": [{}]}, "mark": {"type": "rect", "filled": false, "stroke": "#000", "strokeWidth": 1.5, "cornerRadius": 8},
   "encoding": {"x": {"datum": -5.88, "type": "quantitative", "scale": {"domain": [0, 100], "nice": false, "zero": false}, "axis": null}, "x2": {"datum": 100}}},
  {"mark": {"type": "text", "align": "left", "fontSize": 18, "fontWeight": "bold", "color": "#000"},
   "encoding": {"x": {"datum": -5.16, "type": "quantitative"}, "y": {"field": "ln", "type": "ordinal", "scale": {"type": "point", "padding": 0.8}, "axis": null}, "text": {"field": "tag"}}},
  {"mark": {"type": "text", "align": "left", "fontSize": 21, "color": "#000"},
   "encoding": {"x": {"datum": -2.71, "type": "quantitative"}, "y": {"field": "ln", "type": "ordinal"}, "text": {"field": "t"}}}
 ]
}
]
}
